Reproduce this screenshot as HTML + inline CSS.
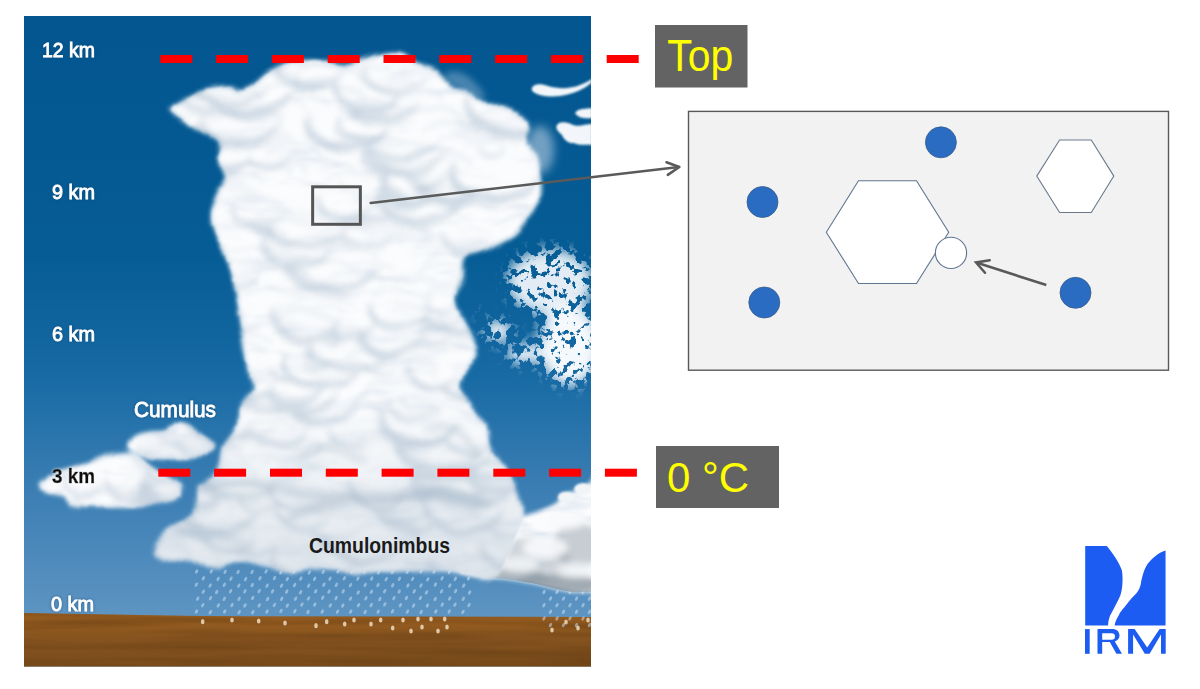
<!DOCTYPE html>
<html><head><meta charset="utf-8">
<style>
html,body{margin:0;padding:0;background:#fff;width:1200px;height:689px;overflow:hidden}
svg{position:absolute;left:0;top:0}
text{font-family:"Liberation Sans",sans-serif}
</style></head><body>
<svg width="1200" height="689" viewBox="0 0 1200 689">
<defs>
  <linearGradient id="sky" gradientUnits="userSpaceOnUse" x1="0" y1="16" x2="0" y2="615">
    <stop offset="0" stop-color="#03568f"/>
    <stop offset="0.4" stop-color="#065c95"/>
    <stop offset="0.6" stop-color="#176aa4"/>
    <stop offset="0.8" stop-color="#3d7fb4"/>
    <stop offset="1" stop-color="#5d94c2"/>
  </linearGradient>
  <linearGradient id="ground" x1="0" y1="0" x2="0" y2="1">
    <stop offset="0" stop-color="#9a5f20"/>
    <stop offset="0.5" stop-color="#85531f"/>
    <stop offset="1" stop-color="#7a4c1b"/>
  </linearGradient>
  <linearGradient id="rlcg" x1="0" y1="0" x2="0" y2="1">
    <stop offset="0" stop-color="#f4f6f8"/>
    <stop offset="0.6" stop-color="#c9d1d8"/>
    <stop offset="1" stop-color="#8e9aa4"/>
  </linearGradient>
  <clipPath id="pic"><rect x="24" y="16" width="567" height="650.7"/></clipPath>
  <filter id="cloudfx" x="-5%" y="-5%" width="110%" height="110%">
    <feGaussianBlur in="SourceGraphic" stdDeviation="2" result="b"/>
    <feTurbulence type="fractalNoise" baseFrequency="0.018 0.07" numOctaves="3" seed="5" result="t"/>
    <feColorMatrix in="t" type="matrix" values="0 0 0 0 0.72  0 0 0 0 0.79  0 0 0 0 0.87  0 0 0 -2.6 1.22" result="tc"/>
    <feComposite in="tc" in2="b" operator="in" result="tx"/>
    <feMerge><feMergeNode in="b"/><feMergeNode in="tx"/></feMerge>
  </filter>
  <filter id="bumpy" x="0" y="0" width="1200" height="689" filterUnits="userSpaceOnUse" color-interpolation-filters="sRGB">
    <feTurbulence type="fractalNoise" baseFrequency="0.035" numOctaves="1" seed="2" result="dn"/>
    <feDisplacementMap in="SourceGraphic" in2="dn" scale="10" xChannelSelector="R" yChannelSelector="G" result="dd"/>
    <feGaussianBlur in="dd" stdDeviation="0.9"/>
  </filter>
  <filter id="gtex" x="0" y="600" width="1200" height="80" filterUnits="userSpaceOnUse" color-interpolation-filters="sRGB">
    <feTurbulence type="fractalNoise" baseFrequency="0.006 0.12" numOctaves="2" seed="8" result="gn"/>
    <feColorMatrix in="gn" type="matrix" values="0 0 0 0 0.35  0 0 0 0 0.21  0 0 0 0 0.06  -1.6 0 0 0 1.0" result="gc"/>
    <feComposite in="gc" in2="SourceAlpha" operator="in"/>
  </filter>
  <filter id="blur05" x="-50%" y="-50%" width="200%" height="200%"><feGaussianBlur stdDeviation="0.5"/></filter>
  <filter id="blur1" x="-20%" y="-20%" width="140%" height="140%"><feGaussianBlur stdDeviation="1"/></filter>
  <filter id="blur2" x="-20%" y="-20%" width="140%" height="140%"><feGaussianBlur stdDeviation="3"/></filter>
  <filter id="blur4" x="-30%" y="-30%" width="160%" height="160%"><feGaussianBlur stdDeviation="5"/></filter>
  <filter id="glow" x="-20%" y="-50%" width="140%" height="200%"><feGaussianBlur in="SourceAlpha" stdDeviation="1.5" result="g"/><feFlood flood-color="#0a3d6a" flood-opacity="0.6"/><feComposite in2="g" operator="in"/><feMerge><feMergeNode/><feMergeNode in="SourceGraphic"/></feMerge></filter>
  <filter id="wglow" x="-20%" y="-50%" width="140%" height="200%"><feGaussianBlur in="SourceAlpha" stdDeviation="1.5" result="g"/><feFlood flood-color="#ffffff" flood-opacity="0.7"/><feComposite in2="g" operator="in"/><feMerge><feMergeNode/><feMergeNode in="SourceGraphic"/></feMerge></filter>
<filter id="frag" x="0" y="0" width="1200" height="689" filterUnits="userSpaceOnUse" color-interpolation-filters="sRGB">
  <feGaussianBlur in="SourceAlpha" stdDeviation="7" result="blob"/>
  <feTurbulence type="fractalNoise" baseFrequency="0.13" numOctaves="3" seed="9" result="n"/>
  <feColorMatrix in="n" type="matrix" values="0 0 0 0 0  0 0 0 0 0  0 0 0 0 0  1 0 0 0 0" result="na"/>
  <feComposite in="na" in2="blob" operator="arithmetic" k1="0" k2="2.5" k3="0.62" k4="-1.45" result="c"/>
  <feComponentTransfer in="c" result="th"><feFuncA type="linear" slope="7" intercept="-0.6"/></feComponentTransfer>
  <feComposite in="th" in2="blob" operator="in" result="th2"/>
  <feGaussianBlur in="th2" stdDeviation="0.4" result="thb"/>
  <feFlood flood-color="#f6f9fc"/>
  <feComposite in2="thb" operator="in"/>
</filter>
<clipPath id="rlcclip"><path d="M500.0 522.0 C507.1 519.0 513.7 518.6 520.5 516.7 C527.3 514.8 534.7 513.0 540.8 510.6 C546.9 508.2 553.6 505.2 557.0 502.5 C560.4 499.8 558.7 496.1 561.0 494.4 C563.3 492.6 567.3 493.0 571.0 492.0 C574.7 491.0 579.9 490.3 583.4 488.3 C586.9 486.3 590.1 481.4 592.0 480.0 C593.9 478.6 594.5 461.3 595.0 480.0 C595.5 498.7 595.7 573.4 595.0 592.0 C594.3 610.6 595.0 591.9 591.0 591.9 C587.0 591.9 577.7 592.6 571.0 591.9 C564.3 591.2 557.0 589.2 551.0 587.8 C545.0 586.4 541.5 585.1 534.7 583.7 C527.9 582.4 517.8 580.7 510.3 579.7 C502.9 578.7 498.1 578.7 490.0 577.6 C481.9 576.5 467.3 575.6 462.0 573.0 C456.7 570.4 455.3 568.3 458.0 562.0 C460.7 555.7 471.0 541.7 478.0 535.0 C485.0 528.3 492.9 525.0 500.0 522.0 Z"/></clipPath>
<clipPath id="mainclip"><path d="M170.5 109.6 C170.5 106.8 175.2 104.2 181.0 101.0 C186.8 97.8 196.9 92.8 205.0 90.5 C213.1 88.2 223.9 87.0 229.7 87.0 C235.5 87.0 235.6 91.4 240.0 90.7 C244.4 90.0 250.7 86.3 256.0 82.7 C261.3 79.1 265.8 72.9 272.0 69.3 C278.2 65.7 285.0 62.6 293.0 61.3 C301.0 60.0 311.1 60.8 320.0 61.3 C328.9 61.8 339.2 64.4 346.7 64.0 C354.2 63.6 358.8 60.5 365.0 58.7 C371.2 56.9 377.7 54.2 384.0 53.3 C390.3 52.4 397.4 51.7 402.7 53.3 C408.0 54.9 410.7 60.0 416.0 62.7 C421.3 65.4 428.5 65.1 434.7 69.3 C440.9 73.5 446.8 84.0 453.0 88.0 C459.2 92.0 465.3 90.6 472.0 93.3 C478.7 96.0 485.9 100.9 493.0 104.0 C500.1 107.1 508.9 109.3 514.7 112.0 C520.5 114.7 525.3 117.5 528.0 120.0 C530.7 122.5 531.0 124.0 531.0 127.0 C531.0 130.0 527.0 132.5 528.0 138.0 C529.0 143.5 535.0 153.0 537.0 160.0 C539.0 167.0 539.5 174.0 540.0 180.0 C540.5 186.0 541.0 191.2 540.0 196.0 C539.0 200.8 537.3 203.3 534.0 209.0 C530.7 214.7 524.0 225.2 520.0 230.0 C516.0 234.8 514.7 235.2 510.0 238.0 C505.3 240.8 497.3 244.7 492.0 247.0 C486.7 249.3 482.7 250.2 478.0 252.0 C473.3 253.8 466.7 253.5 464.0 258.0 C461.3 262.5 463.5 272.2 462.0 279.0 C460.5 285.8 454.7 291.7 455.0 299.0 C455.3 306.3 460.8 315.7 464.0 323.0 C467.2 330.3 473.3 335.8 474.0 343.0 C474.7 350.2 470.2 358.7 468.0 366.0 C465.8 373.3 460.2 380.2 461.0 387.0 C461.8 393.8 468.4 400.8 472.5 407.0 C476.6 413.2 482.5 416.8 485.6 424.0 C488.7 431.2 487.3 442.0 491.0 450.0 C494.7 458.0 503.2 463.7 508.0 472.0 C512.8 480.3 517.7 492.3 520.0 500.0 C522.3 507.7 522.8 511.8 522.0 518.0 C521.2 524.2 519.5 527.3 515.0 537.0 C510.5 546.7 506.7 570.3 495.0 576.0 C483.3 581.7 467.5 571.7 445.0 571.0 C422.5 570.3 382.5 572.5 360.0 572.0 C337.5 571.5 322.2 568.0 310.0 568.0 C297.8 568.0 294.9 572.7 287.0 572.0 C279.1 571.3 271.4 565.6 262.6 564.0 C253.8 562.4 241.3 562.2 234.0 562.5 C226.7 562.8 225.2 566.0 219.0 566.0 C212.8 566.0 205.0 563.7 196.6 562.5 C188.2 561.3 175.2 560.3 168.3 558.7 C161.4 557.1 157.4 555.2 155.0 553.0 C152.6 550.8 152.7 548.3 154.0 545.5 C155.3 542.7 159.0 539.1 162.6 536.0 C166.2 532.9 171.4 529.4 175.8 526.6 C180.2 523.8 185.5 522.1 189.0 519.0 C192.5 515.9 195.0 513.0 196.6 507.7 C198.2 502.4 197.3 491.0 198.5 487.0 C199.7 483.0 200.8 486.8 204.0 483.7 C207.2 480.6 214.6 474.0 217.7 468.4 C220.8 462.8 220.0 455.6 222.3 450.0 C224.6 444.4 228.6 440.2 231.5 435.0 C234.4 429.8 237.7 424.1 239.5 419.0 C241.3 413.9 240.2 409.3 242.4 404.5 C244.6 399.7 251.3 394.9 252.6 390.0 C253.9 385.1 251.3 381.7 250.0 375.0 C248.7 368.3 246.1 357.0 244.8 349.7 C243.5 342.4 243.0 336.7 242.2 331.4 C241.4 326.1 241.2 325.1 240.0 318.0 C238.8 310.9 236.7 297.3 235.0 289.0 C233.3 280.7 232.2 275.3 229.7 268.0 C227.2 260.7 222.9 252.0 220.0 245.0 C217.1 238.0 213.3 232.0 212.0 226.0 C210.7 220.0 210.8 215.0 212.0 209.0 C213.2 203.0 216.9 195.2 219.0 190.0 C221.1 184.8 224.8 182.6 224.5 177.6 C224.2 172.6 218.1 165.5 217.5 160.0 C216.9 154.5 221.3 148.6 221.0 144.5 C220.7 140.4 220.1 138.3 215.7 135.7 C211.3 133.1 200.6 131.8 194.8 128.8 C189.0 125.9 185.1 121.2 181.0 118.0 C176.9 114.8 170.5 112.4 170.5 109.6 Z"/><path d="M126.3 447.6 C126.3 444.7 131.2 438.9 135.0 436.3 C138.8 433.7 144.3 432.8 149.0 431.9 C153.7 431.0 158.9 432.2 163.0 431.0 C167.1 429.8 169.4 425.8 173.5 424.9 C177.6 424.0 183.4 424.4 187.5 425.8 C191.6 427.1 194.8 430.7 198.0 432.8 C201.2 434.8 204.1 436.0 206.8 438.0 C209.4 440.0 212.9 442.7 213.8 445.0 C214.6 447.3 214.9 450.1 212.0 452.0 C209.1 453.9 202.7 455.2 196.2 456.4 C189.8 457.6 180.8 458.7 173.5 459.0 C166.2 459.3 158.9 458.9 152.5 458.0 C146.1 457.1 139.4 455.5 135.0 453.8 C130.6 452.0 126.3 450.5 126.3 447.6 Z"/><path d="M39.6 487.0 C39.0 484.7 41.2 482.6 44.0 480.0 C46.8 477.4 51.3 473.6 56.2 471.2 C61.2 468.9 68.5 467.2 73.8 466.0 C79.0 464.8 83.4 465.4 87.8 464.2 C92.1 463.1 95.6 460.6 100.0 459.0 C104.4 457.4 108.8 455.5 114.0 454.6 C119.2 453.7 126.5 452.7 131.5 453.8 C136.5 454.8 140.2 458.4 143.8 460.8 C147.2 463.1 148.7 465.1 152.5 467.8 C156.3 470.4 162.1 473.9 166.5 476.5 C170.9 479.1 176.1 481.2 178.8 483.5 C181.4 485.8 182.2 488.2 182.2 490.5 C182.2 492.8 182.2 495.5 178.8 497.5 C175.2 499.5 168.5 501.3 161.2 502.8 C154.0 504.2 145.2 505.7 135.0 506.2 C124.8 506.8 110.2 506.4 100.0 506.2 C89.8 506.1 79.9 506.9 73.8 505.4 C67.6 503.9 67.6 499.4 63.2 497.5 C58.9 495.6 51.4 495.8 47.5 494.0 C43.6 492.2 40.2 489.3 39.6 487.0 Z"/></clipPath>
<linearGradient id="lowshade" gradientUnits="userSpaceOnUse" x1="0" y1="400" x2="0" y2="575">
  <stop offset="0" stop-color="#b4c4d3" stop-opacity="0"/>
  <stop offset="1" stop-color="#a9bacb" stop-opacity="0.35"/>
</linearGradient>
<filter id="blur4s" x="-5%" y="-5%" width="110%" height="110%"><feGaussianBlur stdDeviation="4"/></filter>
<filter id="pb4" x="-5%" y="-5%" width="110%" height="110%"><feGaussianBlur stdDeviation="3"/></filter>
<filter id="pb" x="-5%" y="-5%" width="110%" height="110%"><feGaussianBlur stdDeviation="2.5"/></filter>
</defs>
<g clip-path="url(#pic)">
  <rect x="24" y="16" width="567" height="650.7" fill="url(#sky)"/>
  <path d="M24 613 L200 616 L591 617 L591 666.7 L24 666.7 Z" fill="url(#ground)"/>
  <path d="M24 613 L200 616 L591 617 L591 666.7 L24 666.7 Z" fill="#5a3510" filter="url(#gtex)" opacity="0.5"/>
  <g fill="#d2e6f7" opacity="0.5"><ellipse cx="196.6" cy="571.5" rx="1.4" ry="2.4" transform="rotate(28 196.6 571.5)"/><ellipse cx="211.3" cy="571.4" rx="1.4" ry="2.4" transform="rotate(28 211.3 571.4)"/><ellipse cx="225.1" cy="571.8" rx="1.4" ry="2.4" transform="rotate(28 225.1 571.8)"/><ellipse cx="238.1" cy="572.0" rx="1.4" ry="2.4" transform="rotate(28 238.1 572.0)"/><ellipse cx="252.1" cy="571.9" rx="1.4" ry="2.4" transform="rotate(28 252.1 571.9)"/><ellipse cx="266.1" cy="571.4" rx="1.4" ry="2.4" transform="rotate(28 266.1 571.4)"/><ellipse cx="280.8" cy="572.5" rx="1.4" ry="2.4" transform="rotate(28 280.8 572.5)"/><ellipse cx="294.2" cy="571.6" rx="1.4" ry="2.4" transform="rotate(28 294.2 571.6)"/><ellipse cx="309.3" cy="572.6" rx="1.4" ry="2.4" transform="rotate(28 309.3 572.6)"/><ellipse cx="323.2" cy="571.9" rx="1.4" ry="2.4" transform="rotate(28 323.2 571.9)"/><ellipse cx="338.0" cy="571.4" rx="1.4" ry="2.4" transform="rotate(28 338.0 571.4)"/><ellipse cx="351.7" cy="571.7" rx="1.4" ry="2.4" transform="rotate(28 351.7 571.7)"/><ellipse cx="364.3" cy="571.5" rx="1.4" ry="2.4" transform="rotate(28 364.3 571.5)"/><ellipse cx="378.6" cy="572.4" rx="1.4" ry="2.4" transform="rotate(28 378.6 572.4)"/><ellipse cx="392.4" cy="572.1" rx="1.4" ry="2.4" transform="rotate(28 392.4 572.1)"/><ellipse cx="407.3" cy="571.8" rx="1.4" ry="2.4" transform="rotate(28 407.3 571.8)"/><ellipse cx="421.1" cy="571.4" rx="1.4" ry="2.4" transform="rotate(28 421.1 571.4)"/><ellipse cx="434.1" cy="571.6" rx="1.4" ry="2.4" transform="rotate(28 434.1 571.6)"/><ellipse cx="449.4" cy="571.9" rx="1.4" ry="2.4" transform="rotate(28 449.4 571.9)"/><ellipse cx="462.6" cy="572.1" rx="1.4" ry="2.4" transform="rotate(28 462.6 572.1)"/><ellipse cx="203.4" cy="578.3" rx="1.4" ry="2.4" transform="rotate(28 203.4 578.3)"/><ellipse cx="218.1" cy="578.9" rx="1.4" ry="2.4" transform="rotate(28 218.1 578.9)"/><ellipse cx="231.0" cy="578.7" rx="1.4" ry="2.4" transform="rotate(28 231.0 578.7)"/><ellipse cx="245.6" cy="579.1" rx="1.4" ry="2.4" transform="rotate(28 245.6 579.1)"/><ellipse cx="260.0" cy="578.3" rx="1.4" ry="2.4" transform="rotate(28 260.0 578.3)"/><ellipse cx="274.5" cy="578.1" rx="1.4" ry="2.4" transform="rotate(28 274.5 578.1)"/><ellipse cx="287.3" cy="579.0" rx="1.4" ry="2.4" transform="rotate(28 287.3 579.0)"/><ellipse cx="300.8" cy="578.6" rx="1.4" ry="2.4" transform="rotate(28 300.8 578.6)"/><ellipse cx="314.6" cy="578.8" rx="1.4" ry="2.4" transform="rotate(28 314.6 578.8)"/><ellipse cx="330.0" cy="578.7" rx="1.4" ry="2.4" transform="rotate(28 330.0 578.7)"/><ellipse cx="344.3" cy="578.3" rx="1.4" ry="2.4" transform="rotate(28 344.3 578.3)"/><ellipse cx="357.9" cy="578.7" rx="1.4" ry="2.4" transform="rotate(28 357.9 578.7)"/><ellipse cx="371.7" cy="578.5" rx="1.4" ry="2.4" transform="rotate(28 371.7 578.5)"/><ellipse cx="386.2" cy="579.2" rx="1.4" ry="2.4" transform="rotate(28 386.2 579.2)"/><ellipse cx="399.4" cy="578.8" rx="1.4" ry="2.4" transform="rotate(28 399.4 578.8)"/><ellipse cx="412.6" cy="578.9" rx="1.4" ry="2.4" transform="rotate(28 412.6 578.9)"/><ellipse cx="427.8" cy="579.3" rx="1.4" ry="2.4" transform="rotate(28 427.8 579.3)"/><ellipse cx="442.1" cy="578.3" rx="1.4" ry="2.4" transform="rotate(28 442.1 578.3)"/><ellipse cx="455.3" cy="578.8" rx="1.4" ry="2.4" transform="rotate(28 455.3 578.8)"/><ellipse cx="468.5" cy="578.5" rx="1.4" ry="2.4" transform="rotate(28 468.5 578.5)"/><ellipse cx="196.3" cy="584.7" rx="1.4" ry="2.4" transform="rotate(28 196.3 584.7)"/><ellipse cx="210.1" cy="585.6" rx="1.4" ry="2.4" transform="rotate(28 210.1 585.6)"/><ellipse cx="224.3" cy="584.8" rx="1.4" ry="2.4" transform="rotate(28 224.3 584.8)"/><ellipse cx="238.8" cy="585.7" rx="1.4" ry="2.4" transform="rotate(28 238.8 585.7)"/><ellipse cx="252.2" cy="585.1" rx="1.4" ry="2.4" transform="rotate(28 252.2 585.1)"/><ellipse cx="267.1" cy="585.7" rx="1.4" ry="2.4" transform="rotate(28 267.1 585.7)"/><ellipse cx="281.6" cy="585.7" rx="1.4" ry="2.4" transform="rotate(28 281.6 585.7)"/><ellipse cx="294.6" cy="585.1" rx="1.4" ry="2.4" transform="rotate(28 294.6 585.1)"/><ellipse cx="308.7" cy="585.7" rx="1.4" ry="2.4" transform="rotate(28 308.7 585.7)"/><ellipse cx="323.9" cy="584.7" rx="1.4" ry="2.4" transform="rotate(28 323.9 584.7)"/><ellipse cx="336.4" cy="584.8" rx="1.4" ry="2.4" transform="rotate(28 336.4 584.8)"/><ellipse cx="350.5" cy="585.2" rx="1.4" ry="2.4" transform="rotate(28 350.5 585.2)"/><ellipse cx="365.2" cy="584.9" rx="1.4" ry="2.4" transform="rotate(28 365.2 584.9)"/><ellipse cx="378.0" cy="585.1" rx="1.4" ry="2.4" transform="rotate(28 378.0 585.1)"/><ellipse cx="392.7" cy="585.3" rx="1.4" ry="2.4" transform="rotate(28 392.7 585.3)"/><ellipse cx="407.9" cy="585.5" rx="1.4" ry="2.4" transform="rotate(28 407.9 585.5)"/><ellipse cx="421.0" cy="585.4" rx="1.4" ry="2.4" transform="rotate(28 421.0 585.4)"/><ellipse cx="435.4" cy="584.6" rx="1.4" ry="2.4" transform="rotate(28 435.4 584.6)"/><ellipse cx="449.8" cy="585.6" rx="1.4" ry="2.4" transform="rotate(28 449.8 585.6)"/><ellipse cx="463.7" cy="585.6" rx="1.4" ry="2.4" transform="rotate(28 463.7 585.6)"/><ellipse cx="203.3" cy="591.7" rx="1.4" ry="2.4" transform="rotate(28 203.3 591.7)"/><ellipse cx="216.7" cy="592.0" rx="1.4" ry="2.4" transform="rotate(28 216.7 592.0)"/><ellipse cx="230.6" cy="591.2" rx="1.4" ry="2.4" transform="rotate(28 230.6 591.2)"/><ellipse cx="244.9" cy="591.3" rx="1.4" ry="2.4" transform="rotate(28 244.9 591.3)"/><ellipse cx="259.2" cy="591.2" rx="1.4" ry="2.4" transform="rotate(28 259.2 591.2)"/><ellipse cx="272.5" cy="591.3" rx="1.4" ry="2.4" transform="rotate(28 272.5 591.3)"/><ellipse cx="286.7" cy="591.6" rx="1.4" ry="2.4" transform="rotate(28 286.7 591.6)"/><ellipse cx="300.6" cy="592.3" rx="1.4" ry="2.4" transform="rotate(28 300.6 592.3)"/><ellipse cx="315.7" cy="591.3" rx="1.4" ry="2.4" transform="rotate(28 315.7 591.3)"/><ellipse cx="329.0" cy="591.6" rx="1.4" ry="2.4" transform="rotate(28 329.0 591.6)"/><ellipse cx="343.2" cy="591.3" rx="1.4" ry="2.4" transform="rotate(28 343.2 591.3)"/><ellipse cx="358.2" cy="592.5" rx="1.4" ry="2.4" transform="rotate(28 358.2 592.5)"/><ellipse cx="371.4" cy="591.8" rx="1.4" ry="2.4" transform="rotate(28 371.4 591.8)"/><ellipse cx="384.7" cy="591.2" rx="1.4" ry="2.4" transform="rotate(28 384.7 591.2)"/><ellipse cx="399.2" cy="591.5" rx="1.4" ry="2.4" transform="rotate(28 399.2 591.5)"/><ellipse cx="414.2" cy="591.3" rx="1.4" ry="2.4" transform="rotate(28 414.2 591.3)"/><ellipse cx="426.5" cy="592.4" rx="1.4" ry="2.4" transform="rotate(28 426.5 592.4)"/><ellipse cx="441.6" cy="591.3" rx="1.4" ry="2.4" transform="rotate(28 441.6 591.3)"/><ellipse cx="455.6" cy="591.1" rx="1.4" ry="2.4" transform="rotate(28 455.6 591.1)"/><ellipse cx="469.6" cy="592.5" rx="1.4" ry="2.4" transform="rotate(28 469.6 592.5)"/><ellipse cx="197.7" cy="598.7" rx="1.4" ry="2.4" transform="rotate(28 197.7 598.7)"/><ellipse cx="210.5" cy="598.2" rx="1.4" ry="2.4" transform="rotate(28 210.5 598.2)"/><ellipse cx="224.3" cy="598.8" rx="1.4" ry="2.4" transform="rotate(28 224.3 598.8)"/><ellipse cx="239.1" cy="598.8" rx="1.4" ry="2.4" transform="rotate(28 239.1 598.8)"/><ellipse cx="252.7" cy="598.0" rx="1.4" ry="2.4" transform="rotate(28 252.7 598.0)"/><ellipse cx="267.6" cy="599.1" rx="1.4" ry="2.4" transform="rotate(28 267.6 599.1)"/><ellipse cx="281.7" cy="598.8" rx="1.4" ry="2.4" transform="rotate(28 281.7 598.8)"/><ellipse cx="295.6" cy="598.7" rx="1.4" ry="2.4" transform="rotate(28 295.6 598.7)"/><ellipse cx="308.5" cy="598.4" rx="1.4" ry="2.4" transform="rotate(28 308.5 598.4)"/><ellipse cx="322.7" cy="597.7" rx="1.4" ry="2.4" transform="rotate(28 322.7 597.7)"/><ellipse cx="336.1" cy="598.1" rx="1.4" ry="2.4" transform="rotate(28 336.1 598.1)"/><ellipse cx="350.5" cy="598.7" rx="1.4" ry="2.4" transform="rotate(28 350.5 598.7)"/><ellipse cx="365.9" cy="598.3" rx="1.4" ry="2.4" transform="rotate(28 365.9 598.3)"/><ellipse cx="379.9" cy="599.1" rx="1.4" ry="2.4" transform="rotate(28 379.9 599.1)"/><ellipse cx="393.9" cy="598.2" rx="1.4" ry="2.4" transform="rotate(28 393.9 598.2)"/><ellipse cx="406.4" cy="598.0" rx="1.4" ry="2.4" transform="rotate(28 406.4 598.0)"/><ellipse cx="420.4" cy="598.0" rx="1.4" ry="2.4" transform="rotate(28 420.4 598.0)"/><ellipse cx="435.2" cy="599.0" rx="1.4" ry="2.4" transform="rotate(28 435.2 599.0)"/><ellipse cx="449.7" cy="598.4" rx="1.4" ry="2.4" transform="rotate(28 449.7 598.4)"/><ellipse cx="463.3" cy="598.8" rx="1.4" ry="2.4" transform="rotate(28 463.3 598.8)"/><ellipse cx="202.7" cy="605.2" rx="1.4" ry="2.4" transform="rotate(28 202.7 605.2)"/><ellipse cx="218.3" cy="605.4" rx="1.4" ry="2.4" transform="rotate(28 218.3 605.4)"/><ellipse cx="232.0" cy="605.0" rx="1.4" ry="2.4" transform="rotate(28 232.0 605.0)"/><ellipse cx="244.9" cy="605.4" rx="1.4" ry="2.4" transform="rotate(28 244.9 605.4)"/><ellipse cx="259.2" cy="605.4" rx="1.4" ry="2.4" transform="rotate(28 259.2 605.4)"/><ellipse cx="274.4" cy="604.9" rx="1.4" ry="2.4" transform="rotate(28 274.4 604.9)"/><ellipse cx="287.3" cy="605.6" rx="1.4" ry="2.4" transform="rotate(28 287.3 605.6)"/><ellipse cx="301.9" cy="604.5" rx="1.4" ry="2.4" transform="rotate(28 301.9 604.5)"/><ellipse cx="314.8" cy="604.5" rx="1.4" ry="2.4" transform="rotate(28 314.8 604.5)"/><ellipse cx="330.3" cy="605.4" rx="1.4" ry="2.4" transform="rotate(28 330.3 605.4)"/><ellipse cx="342.8" cy="605.5" rx="1.4" ry="2.4" transform="rotate(28 342.8 605.5)"/><ellipse cx="358.5" cy="605.2" rx="1.4" ry="2.4" transform="rotate(28 358.5 605.2)"/><ellipse cx="371.2" cy="605.1" rx="1.4" ry="2.4" transform="rotate(28 371.2 605.1)"/><ellipse cx="384.8" cy="604.3" rx="1.4" ry="2.4" transform="rotate(28 384.8 604.3)"/><ellipse cx="400.4" cy="605.2" rx="1.4" ry="2.4" transform="rotate(28 400.4 605.2)"/><ellipse cx="413.6" cy="605.6" rx="1.4" ry="2.4" transform="rotate(28 413.6 605.6)"/><ellipse cx="427.4" cy="605.5" rx="1.4" ry="2.4" transform="rotate(28 427.4 605.5)"/><ellipse cx="442.2" cy="604.6" rx="1.4" ry="2.4" transform="rotate(28 442.2 604.6)"/><ellipse cx="455.0" cy="604.7" rx="1.4" ry="2.4" transform="rotate(28 455.0 604.7)"/><ellipse cx="469.0" cy="605.1" rx="1.4" ry="2.4" transform="rotate(28 469.0 605.1)"/><ellipse cx="196.5" cy="611.5" rx="1.4" ry="2.4" transform="rotate(28 196.5 611.5)"/><ellipse cx="210.3" cy="612.2" rx="1.4" ry="2.4" transform="rotate(28 210.3 612.2)"/><ellipse cx="224.7" cy="611.5" rx="1.4" ry="2.4" transform="rotate(28 224.7 611.5)"/><ellipse cx="239.2" cy="612.2" rx="1.4" ry="2.4" transform="rotate(28 239.2 612.2)"/><ellipse cx="252.8" cy="612.2" rx="1.4" ry="2.4" transform="rotate(28 252.8 612.2)"/><ellipse cx="267.0" cy="611.6" rx="1.4" ry="2.4" transform="rotate(28 267.0 611.6)"/><ellipse cx="281.0" cy="610.9" rx="1.4" ry="2.4" transform="rotate(28 281.0 610.9)"/><ellipse cx="294.9" cy="611.2" rx="1.4" ry="2.4" transform="rotate(28 294.9 611.2)"/><ellipse cx="308.0" cy="612.0" rx="1.4" ry="2.4" transform="rotate(28 308.0 612.0)"/><ellipse cx="322.3" cy="611.6" rx="1.4" ry="2.4" transform="rotate(28 322.3 611.6)"/><ellipse cx="337.5" cy="611.7" rx="1.4" ry="2.4" transform="rotate(28 337.5 611.7)"/><ellipse cx="350.7" cy="611.6" rx="1.4" ry="2.4" transform="rotate(28 350.7 611.6)"/><ellipse cx="365.1" cy="612.0" rx="1.4" ry="2.4" transform="rotate(28 365.1 612.0)"/><ellipse cx="378.2" cy="611.7" rx="1.4" ry="2.4" transform="rotate(28 378.2 611.7)"/><ellipse cx="392.5" cy="611.3" rx="1.4" ry="2.4" transform="rotate(28 392.5 611.3)"/><ellipse cx="407.5" cy="611.6" rx="1.4" ry="2.4" transform="rotate(28 407.5 611.6)"/><ellipse cx="421.1" cy="612.0" rx="1.4" ry="2.4" transform="rotate(28 421.1 612.0)"/><ellipse cx="435.8" cy="611.5" rx="1.4" ry="2.4" transform="rotate(28 435.8 611.5)"/><ellipse cx="449.2" cy="611.6" rx="1.4" ry="2.4" transform="rotate(28 449.2 611.6)"/><ellipse cx="463.0" cy="611.9" rx="1.4" ry="2.4" transform="rotate(28 463.0 611.9)"/><ellipse cx="544.0" cy="592.0" rx="1.4" ry="2.4" transform="rotate(28 544.0 592.0)"/><ellipse cx="557.0" cy="592.0" rx="1.4" ry="2.4" transform="rotate(28 557.0 592.0)"/><ellipse cx="570.0" cy="592.0" rx="1.4" ry="2.4" transform="rotate(28 570.0 592.0)"/><ellipse cx="583.0" cy="592.0" rx="1.4" ry="2.4" transform="rotate(28 583.0 592.0)"/><ellipse cx="550.5" cy="598.6" rx="1.4" ry="2.4" transform="rotate(28 550.5 598.6)"/><ellipse cx="563.5" cy="598.6" rx="1.4" ry="2.4" transform="rotate(28 563.5 598.6)"/><ellipse cx="576.5" cy="598.6" rx="1.4" ry="2.4" transform="rotate(28 576.5 598.6)"/><ellipse cx="589.5" cy="598.6" rx="1.4" ry="2.4" transform="rotate(28 589.5 598.6)"/><ellipse cx="544.0" cy="605.2" rx="1.4" ry="2.4" transform="rotate(28 544.0 605.2)"/><ellipse cx="557.0" cy="605.2" rx="1.4" ry="2.4" transform="rotate(28 557.0 605.2)"/><ellipse cx="570.0" cy="605.2" rx="1.4" ry="2.4" transform="rotate(28 570.0 605.2)"/><ellipse cx="583.0" cy="605.2" rx="1.4" ry="2.4" transform="rotate(28 583.0 605.2)"/><ellipse cx="550.5" cy="611.8" rx="1.4" ry="2.4" transform="rotate(28 550.5 611.8)"/><ellipse cx="563.5" cy="611.8" rx="1.4" ry="2.4" transform="rotate(28 563.5 611.8)"/><ellipse cx="576.5" cy="611.8" rx="1.4" ry="2.4" transform="rotate(28 576.5 611.8)"/><ellipse cx="589.5" cy="611.8" rx="1.4" ry="2.4" transform="rotate(28 589.5 611.8)"/><ellipse cx="544.0" cy="618.4" rx="1.4" ry="2.4" transform="rotate(28 544.0 618.4)"/><ellipse cx="557.0" cy="618.4" rx="1.4" ry="2.4" transform="rotate(28 557.0 618.4)"/><ellipse cx="570.0" cy="618.4" rx="1.4" ry="2.4" transform="rotate(28 570.0 618.4)"/><ellipse cx="583.0" cy="618.4" rx="1.4" ry="2.4" transform="rotate(28 583.0 618.4)"/><ellipse cx="550.5" cy="625.0" rx="1.4" ry="2.4" transform="rotate(28 550.5 625.0)"/><ellipse cx="563.5" cy="625.0" rx="1.4" ry="2.4" transform="rotate(28 563.5 625.0)"/><ellipse cx="576.5" cy="625.0" rx="1.4" ry="2.4" transform="rotate(28 576.5 625.0)"/><ellipse cx="589.5" cy="625.0" rx="1.4" ry="2.4" transform="rotate(28 589.5 625.0)"/></g>
  <g fill="#f0dcc0" opacity="0.85" filter="url(#blur05)"><ellipse cx="202.7" cy="621.7" rx="1.8" ry="2.6"/><ellipse cx="232.0" cy="620.0" rx="1.8" ry="2.6"/><ellipse cx="258.7" cy="621.0" rx="1.8" ry="2.6"/><ellipse cx="285.0" cy="623.0" rx="1.8" ry="2.6"/><ellipse cx="316.0" cy="625.7" rx="1.8" ry="2.6"/><ellipse cx="326.7" cy="621.7" rx="1.8" ry="2.6"/><ellipse cx="344.7" cy="624.0" rx="1.8" ry="2.6"/><ellipse cx="354.0" cy="620.0" rx="1.8" ry="2.6"/><ellipse cx="371.0" cy="624.0" rx="1.8" ry="2.6"/><ellipse cx="380.7" cy="620.0" rx="1.8" ry="2.6"/><ellipse cx="392.7" cy="628.0" rx="1.8" ry="2.6"/><ellipse cx="403.0" cy="620.0" rx="1.8" ry="2.6"/><ellipse cx="411.0" cy="631.0" rx="1.8" ry="2.6"/><ellipse cx="418.0" cy="619.0" rx="1.8" ry="2.6"/><ellipse cx="422.0" cy="627.0" rx="1.8" ry="2.6"/><ellipse cx="431.0" cy="619.0" rx="1.8" ry="2.6"/><ellipse cx="438.0" cy="631.0" rx="1.8" ry="2.6"/><ellipse cx="444.7" cy="619.0" rx="1.8" ry="2.6"/><ellipse cx="447.0" cy="627.0" rx="1.8" ry="2.6"/><ellipse cx="552.0" cy="630.0" rx="1.8" ry="2.6"/><ellipse cx="566.0" cy="622.0" rx="1.8" ry="2.6"/><ellipse cx="578.0" cy="628.0" rx="1.8" ry="2.6"/><ellipse cx="588.0" cy="620.0" rx="1.8" ry="2.6"/></g>
  <!-- streaks top right -->
  <g fill="#f2f6fa" filter="url(#blur1)">
    <path d="M532 88 C533 84 540 83 548 86 C558 89 570 89 580 85 C585 83 589 81 592 79 L592 82 C586 88 575 94 560 96 C548 97 540 96 535 93 C532 91 531 90 532 88 Z"/>
    <path d="M575 113 C578 108 586 109 592 108 L592 118 C586 119 578 118 575 113 Z"/>
    <path d="M557 125 C560 121 567 122 573 125 C579 127 586 124 592 124 L592 145 C586 144 580 146 574 143 C569 144 564 140 562 135 C558 132 555 128 557 125 Z"/>
  </g>
  <ellipse cx="540" cy="150" rx="14" ry="24" fill="#b9cfe2" opacity="0.6" filter="url(#blur4)"/>
  <path d="M445 74 C455 68 468 74 476 84 C484 92 488 98 482 99 C472 97 458 90 447 82 Z" fill="#c5d8e8" opacity="0.35" filter="url(#blur2)"/>
  <g filter="url(#frag)">
 <ellipse cx="550" cy="282" rx="44" ry="34" fill-opacity="0.92"/>
 <ellipse cx="570" cy="345" rx="32" ry="42"/>
 <ellipse cx="524" cy="354" rx="18" ry="10"/>
 <ellipse cx="498" cy="331" rx="15" ry="11"/>
 <circle cx="480" cy="313" r="3"/>
</g>
  <g filter="url(#cloudfx)" fill="#fbfcfd">
    <path d="M500.0 522.0 C507.1 519.0 513.7 518.6 520.5 516.7 C527.3 514.8 534.7 513.0 540.8 510.6 C546.9 508.2 553.6 505.2 557.0 502.5 C560.4 499.8 558.7 496.1 561.0 494.4 C563.3 492.6 567.3 493.0 571.0 492.0 C574.7 491.0 579.9 490.3 583.4 488.3 C586.9 486.3 590.1 481.4 592.0 480.0 C593.9 478.6 594.5 461.3 595.0 480.0 C595.5 498.7 595.7 573.4 595.0 592.0 C594.3 610.6 595.0 591.9 591.0 591.9 C587.0 591.9 577.7 592.6 571.0 591.9 C564.3 591.2 557.0 589.2 551.0 587.8 C545.0 586.4 541.5 585.1 534.7 583.7 C527.9 582.4 517.8 580.7 510.3 579.7 C502.9 578.7 498.1 578.7 490.0 577.6 C481.9 576.5 467.3 575.6 462.0 573.0 C456.7 570.4 455.3 568.3 458.0 562.0 C460.7 555.7 471.0 541.7 478.0 535.0 C485.0 528.3 492.9 525.0 500.0 522.0 Z" />
  </g>
  <g clip-path="url(#rlcclip)" filter="url(#blur2)">
    <ellipse cx="530" cy="560" rx="40" ry="22" fill="#9aa7b1" opacity="0.45"/>
    <ellipse cx="578" cy="545" rx="25" ry="22" fill="#8794a0" opacity="0.45"/>
    <ellipse cx="560" cy="585" rx="45" ry="10" fill="#7b8893" opacity="0.7"/>
    <ellipse cx="515" cy="576" rx="30" ry="7" fill="#85929d" opacity="0.55"/>
    <ellipse cx="545" cy="548" rx="22" ry="10" fill="#f8fafc" opacity="0.9"/>
    <ellipse cx="520" cy="565" rx="18" ry="8" fill="#f4f7f9" opacity="0.8"/>
    <ellipse cx="565" cy="520" rx="20" ry="9" fill="#f8fafc" opacity="0.9"/>
    <ellipse cx="575" cy="570" rx="18" ry="8" fill="#eef2f5" opacity="0.7"/>
  </g>
  <g fill="#f2f5f8" filter="url(#blur1)">
    <ellipse cx="566" cy="497" rx="8" ry="5"/>
    <ellipse cx="583" cy="489" rx="9" ry="6"/>
  </g>
  <g filter="url(#bumpy)">
  <g filter="url(#cloudfx)" fill="#fbfcfd">
    <path d="M170.5 109.6 C170.5 106.8 175.2 104.2 181.0 101.0 C186.8 97.8 196.9 92.8 205.0 90.5 C213.1 88.2 223.9 87.0 229.7 87.0 C235.5 87.0 235.6 91.4 240.0 90.7 C244.4 90.0 250.7 86.3 256.0 82.7 C261.3 79.1 265.8 72.9 272.0 69.3 C278.2 65.7 285.0 62.6 293.0 61.3 C301.0 60.0 311.1 60.8 320.0 61.3 C328.9 61.8 339.2 64.4 346.7 64.0 C354.2 63.6 358.8 60.5 365.0 58.7 C371.2 56.9 377.7 54.2 384.0 53.3 C390.3 52.4 397.4 51.7 402.7 53.3 C408.0 54.9 410.7 60.0 416.0 62.7 C421.3 65.4 428.5 65.1 434.7 69.3 C440.9 73.5 446.8 84.0 453.0 88.0 C459.2 92.0 465.3 90.6 472.0 93.3 C478.7 96.0 485.9 100.9 493.0 104.0 C500.1 107.1 508.9 109.3 514.7 112.0 C520.5 114.7 525.3 117.5 528.0 120.0 C530.7 122.5 531.0 124.0 531.0 127.0 C531.0 130.0 527.0 132.5 528.0 138.0 C529.0 143.5 535.0 153.0 537.0 160.0 C539.0 167.0 539.5 174.0 540.0 180.0 C540.5 186.0 541.0 191.2 540.0 196.0 C539.0 200.8 537.3 203.3 534.0 209.0 C530.7 214.7 524.0 225.2 520.0 230.0 C516.0 234.8 514.7 235.2 510.0 238.0 C505.3 240.8 497.3 244.7 492.0 247.0 C486.7 249.3 482.7 250.2 478.0 252.0 C473.3 253.8 466.7 253.5 464.0 258.0 C461.3 262.5 463.5 272.2 462.0 279.0 C460.5 285.8 454.7 291.7 455.0 299.0 C455.3 306.3 460.8 315.7 464.0 323.0 C467.2 330.3 473.3 335.8 474.0 343.0 C474.7 350.2 470.2 358.7 468.0 366.0 C465.8 373.3 460.2 380.2 461.0 387.0 C461.8 393.8 468.4 400.8 472.5 407.0 C476.6 413.2 482.5 416.8 485.6 424.0 C488.7 431.2 487.3 442.0 491.0 450.0 C494.7 458.0 503.2 463.7 508.0 472.0 C512.8 480.3 517.7 492.3 520.0 500.0 C522.3 507.7 522.8 511.8 522.0 518.0 C521.2 524.2 519.5 527.3 515.0 537.0 C510.5 546.7 506.7 570.3 495.0 576.0 C483.3 581.7 467.5 571.7 445.0 571.0 C422.5 570.3 382.5 572.5 360.0 572.0 C337.5 571.5 322.2 568.0 310.0 568.0 C297.8 568.0 294.9 572.7 287.0 572.0 C279.1 571.3 271.4 565.6 262.6 564.0 C253.8 562.4 241.3 562.2 234.0 562.5 C226.7 562.8 225.2 566.0 219.0 566.0 C212.8 566.0 205.0 563.7 196.6 562.5 C188.2 561.3 175.2 560.3 168.3 558.7 C161.4 557.1 157.4 555.2 155.0 553.0 C152.6 550.8 152.7 548.3 154.0 545.5 C155.3 542.7 159.0 539.1 162.6 536.0 C166.2 532.9 171.4 529.4 175.8 526.6 C180.2 523.8 185.5 522.1 189.0 519.0 C192.5 515.9 195.0 513.0 196.6 507.7 C198.2 502.4 197.3 491.0 198.5 487.0 C199.7 483.0 200.8 486.8 204.0 483.7 C207.2 480.6 214.6 474.0 217.7 468.4 C220.8 462.8 220.0 455.6 222.3 450.0 C224.6 444.4 228.6 440.2 231.5 435.0 C234.4 429.8 237.7 424.1 239.5 419.0 C241.3 413.9 240.2 409.3 242.4 404.5 C244.6 399.7 251.3 394.9 252.6 390.0 C253.9 385.1 251.3 381.7 250.0 375.0 C248.7 368.3 246.1 357.0 244.8 349.7 C243.5 342.4 243.0 336.7 242.2 331.4 C241.4 326.1 241.2 325.1 240.0 318.0 C238.8 310.9 236.7 297.3 235.0 289.0 C233.3 280.7 232.2 275.3 229.7 268.0 C227.2 260.7 222.9 252.0 220.0 245.0 C217.1 238.0 213.3 232.0 212.0 226.0 C210.7 220.0 210.8 215.0 212.0 209.0 C213.2 203.0 216.9 195.2 219.0 190.0 C221.1 184.8 224.8 182.6 224.5 177.6 C224.2 172.6 218.1 165.5 217.5 160.0 C216.9 154.5 221.3 148.6 221.0 144.5 C220.7 140.4 220.1 138.3 215.7 135.7 C211.3 133.1 200.6 131.8 194.8 128.8 C189.0 125.9 185.1 121.2 181.0 118.0 C176.9 114.8 170.5 112.4 170.5 109.6 Z"/>
    <path d="M126.3 447.6 C126.3 444.7 131.2 438.9 135.0 436.3 C138.8 433.7 144.3 432.8 149.0 431.9 C153.7 431.0 158.9 432.2 163.0 431.0 C167.1 429.8 169.4 425.8 173.5 424.9 C177.6 424.0 183.4 424.4 187.5 425.8 C191.6 427.1 194.8 430.7 198.0 432.8 C201.2 434.8 204.1 436.0 206.8 438.0 C209.4 440.0 212.9 442.7 213.8 445.0 C214.6 447.3 214.9 450.1 212.0 452.0 C209.1 453.9 202.7 455.2 196.2 456.4 C189.8 457.6 180.8 458.7 173.5 459.0 C166.2 459.3 158.9 458.9 152.5 458.0 C146.1 457.1 139.4 455.5 135.0 453.8 C130.6 452.0 126.3 450.5 126.3 447.6 Z"/>
    <path d="M39.6 487.0 C39.0 484.7 41.2 482.6 44.0 480.0 C46.8 477.4 51.3 473.6 56.2 471.2 C61.2 468.9 68.5 467.2 73.8 466.0 C79.0 464.8 83.4 465.4 87.8 464.2 C92.1 463.1 95.6 460.6 100.0 459.0 C104.4 457.4 108.8 455.5 114.0 454.6 C119.2 453.7 126.5 452.7 131.5 453.8 C136.5 454.8 140.2 458.4 143.8 460.8 C147.2 463.1 148.7 465.1 152.5 467.8 C156.3 470.4 162.1 473.9 166.5 476.5 C170.9 479.1 176.1 481.2 178.8 483.5 C181.4 485.8 182.2 488.2 182.2 490.5 C182.2 492.8 182.2 495.5 178.8 497.5 C175.2 499.5 168.5 501.3 161.2 502.8 C154.0 504.2 145.2 505.7 135.0 506.2 C124.8 506.8 110.2 506.4 100.0 506.2 C89.8 506.1 79.9 506.9 73.8 505.4 C67.6 503.9 67.6 499.4 63.2 497.5 C58.9 495.6 51.4 495.8 47.5 494.0 C43.6 492.2 40.2 489.3 39.6 487.0 Z"/>
  </g>
  <g clip-path="url(#mainclip)" opacity="0.5"><g filter="url(#pb4)"><ellipse cx="378.2" cy="581.0" rx="19.0" ry="10.8" fill="#a8bccf"/><ellipse cx="379.8" cy="578.0" rx="17.9" ry="10.2" fill="#fbfcfe"/><ellipse cx="280.1" cy="578.2" rx="16.1" ry="8.4" fill="#a8bccf"/><ellipse cx="281.5" cy="575.8" rx="15.2" ry="8.0" fill="#fbfcfe"/><ellipse cx="312.6" cy="580.4" rx="43.3" ry="29.3" fill="#a8bccf"/><ellipse cx="316.3" cy="572.1" rx="40.8" ry="27.7" fill="#fbfcfe"/><ellipse cx="471.4" cy="565.7" rx="44.2" ry="22.2" fill="#a8bccf"/><ellipse cx="475.1" cy="559.5" rx="41.7" ry="20.9" fill="#fbfcfe"/><ellipse cx="231.0" cy="561.7" rx="13.8" ry="10.3" fill="#a8bccf"/><ellipse cx="232.1" cy="558.8" rx="13.0" ry="9.7" fill="#fbfcfe"/><ellipse cx="312.2" cy="563.2" rx="41.5" ry="22.4" fill="#a8bccf"/><ellipse cx="315.7" cy="556.8" rx="39.2" ry="21.2" fill="#fbfcfe"/><ellipse cx="419.8" cy="558.0" rx="13.5" ry="9.1" fill="#a8bccf"/><ellipse cx="420.9" cy="555.4" rx="12.7" ry="8.6" fill="#fbfcfe"/><ellipse cx="516.1" cy="551.1" rx="38.0" ry="19.1" fill="#a8bccf"/><ellipse cx="519.3" cy="545.7" rx="35.8" ry="18.0" fill="#fbfcfe"/><ellipse cx="252.0" cy="540.2" rx="25.0" ry="17.1" fill="#a8bccf"/><ellipse cx="254.2" cy="535.4" rx="23.6" ry="16.1" fill="#fbfcfe"/><ellipse cx="229.6" cy="538.0" rx="26.3" ry="14.7" fill="#a8bccf"/><ellipse cx="231.9" cy="533.8" rx="24.8" ry="13.9" fill="#fbfcfe"/><ellipse cx="360.6" cy="538.0" rx="43.6" ry="26.9" fill="#a8bccf"/><ellipse cx="364.3" cy="530.4" rx="41.1" ry="25.4" fill="#fbfcfe"/><ellipse cx="331.4" cy="527.9" rx="24.5" ry="13.2" fill="#a8bccf"/><ellipse cx="333.5" cy="524.1" rx="23.1" ry="12.5" fill="#fbfcfe"/><ellipse cx="481.4" cy="525.0" rx="15.2" ry="9.0" fill="#a8bccf"/><ellipse cx="482.7" cy="522.4" rx="14.3" ry="8.5" fill="#fbfcfe"/><ellipse cx="509.6" cy="524.8" rx="25.7" ry="15.7" fill="#a8bccf"/><ellipse cx="511.8" cy="520.3" rx="24.3" ry="14.8" fill="#fbfcfe"/><ellipse cx="205.3" cy="521.4" rx="33.5" ry="17.0" fill="#a8bccf"/><ellipse cx="208.1" cy="516.6" rx="31.6" ry="16.0" fill="#fbfcfe"/><ellipse cx="211.9" cy="514.8" rx="33.6" ry="18.1" fill="#a8bccf"/><ellipse cx="214.8" cy="509.7" rx="31.7" ry="17.0" fill="#fbfcfe"/><ellipse cx="300.9" cy="513.8" rx="26.2" ry="18.6" fill="#a8bccf"/><ellipse cx="303.2" cy="508.5" rx="24.8" ry="17.5" fill="#fbfcfe"/><ellipse cx="148.1" cy="511.2" rx="17.8" ry="13.8" fill="#a8bccf"/><ellipse cx="149.6" cy="507.3" rx="16.8" ry="13.0" fill="#fbfcfe"/><ellipse cx="104.8" cy="509.2" rx="10.3" ry="6.3" fill="#a8bccf"/><ellipse cx="105.7" cy="507.4" rx="9.7" ry="6.0" fill="#fbfcfe"/><ellipse cx="412.2" cy="511.7" rx="34.9" ry="24.6" fill="#a8bccf"/><ellipse cx="415.2" cy="504.8" rx="33.0" ry="23.2" fill="#fbfcfe"/><ellipse cx="403.2" cy="506.6" rx="31.3" ry="18.1" fill="#a8bccf"/><ellipse cx="405.8" cy="501.5" rx="29.5" ry="17.0" fill="#fbfcfe"/><ellipse cx="219.8" cy="508.6" rx="38.4" ry="29.6" fill="#a8bccf"/><ellipse cx="223.0" cy="500.3" rx="36.2" ry="27.9" fill="#fbfcfe"/><ellipse cx="47.2" cy="503.5" rx="10.2" ry="6.3" fill="#a8bccf"/><ellipse cx="48.1" cy="501.7" rx="9.6" ry="6.0" fill="#fbfcfe"/><ellipse cx="396.3" cy="502.8" rx="19.7" ry="10.5" fill="#a8bccf"/><ellipse cx="397.9" cy="499.8" rx="18.6" ry="9.9" fill="#fbfcfe"/><ellipse cx="95.0" cy="502.4" rx="17.4" ry="9.5" fill="#a8bccf"/><ellipse cx="96.4" cy="499.7" rx="16.5" ry="9.0" fill="#fbfcfe"/><ellipse cx="255.8" cy="502.2" rx="17.6" ry="12.4" fill="#a8bccf"/><ellipse cx="257.3" cy="498.7" rx="16.6" ry="11.7" fill="#fbfcfe"/><ellipse cx="462.9" cy="505.3" rx="42.1" ry="32.2" fill="#a8bccf"/><ellipse cx="466.5" cy="496.2" rx="39.8" ry="30.4" fill="#fbfcfe"/><ellipse cx="191.4" cy="498.3" rx="15.1" ry="8.3" fill="#a8bccf"/><ellipse cx="192.7" cy="495.9" rx="14.2" ry="7.8" fill="#fbfcfe"/><ellipse cx="164.4" cy="497.7" rx="9.9" ry="6.0" fill="#a8bccf"/><ellipse cx="165.2" cy="496.0" rx="9.4" ry="5.6" fill="#fbfcfe"/><ellipse cx="144.2" cy="497.3" rx="15.8" ry="10.2" fill="#a8bccf"/><ellipse cx="145.5" cy="494.4" rx="14.9" ry="9.6" fill="#fbfcfe"/><ellipse cx="199.4" cy="497.0" rx="18.9" ry="12.2" fill="#a8bccf"/><ellipse cx="201.0" cy="493.5" rx="17.8" ry="11.6" fill="#fbfcfe"/><ellipse cx="86.2" cy="492.0" rx="8.5" ry="5.1" fill="#a8bccf"/><ellipse cx="86.9" cy="490.6" rx="8.0" ry="4.8" fill="#fbfcfe"/><ellipse cx="159.9" cy="492.5" rx="15.6" ry="12.3" fill="#a8bccf"/><ellipse cx="161.2" cy="489.0" rx="14.8" ry="11.6" fill="#fbfcfe"/><ellipse cx="299.4" cy="493.5" rx="28.6" ry="18.3" fill="#a8bccf"/><ellipse cx="301.8" cy="488.3" rx="27.0" ry="17.2" fill="#fbfcfe"/><ellipse cx="118.6" cy="490.5" rx="9.0" ry="6.2" fill="#a8bccf"/><ellipse cx="119.4" cy="488.7" rx="8.5" ry="5.9" fill="#fbfcfe"/><ellipse cx="133.1" cy="490.7" rx="15.2" ry="11.8" fill="#a8bccf"/><ellipse cx="134.4" cy="487.3" rx="14.3" ry="11.2" fill="#fbfcfe"/><ellipse cx="172.0" cy="492.7" rx="31.4" ry="23.2" fill="#a8bccf"/><ellipse cx="174.7" cy="486.2" rx="29.6" ry="21.9" fill="#fbfcfe"/><ellipse cx="192.4" cy="489.6" rx="16.2" ry="9.3" fill="#a8bccf"/><ellipse cx="193.8" cy="487.0" rx="15.3" ry="8.8" fill="#fbfcfe"/><ellipse cx="459.5" cy="490.8" rx="29.6" ry="15.2" fill="#a8bccf"/><ellipse cx="462.0" cy="486.5" rx="27.9" ry="14.4" fill="#fbfcfe"/><ellipse cx="147.5" cy="490.1" rx="16.9" ry="12.8" fill="#a8bccf"/><ellipse cx="149.0" cy="486.5" rx="15.9" ry="12.1" fill="#fbfcfe"/><ellipse cx="377.8" cy="489.7" rx="29.3" ry="20.5" fill="#a8bccf"/><ellipse cx="380.3" cy="483.9" rx="27.6" ry="19.3" fill="#fbfcfe"/><ellipse cx="218.0" cy="487.8" rx="16.7" ry="13.0" fill="#a8bccf"/><ellipse cx="219.5" cy="484.1" rx="15.7" ry="12.3" fill="#fbfcfe"/><ellipse cx="50.0" cy="487.1" rx="13.6" ry="10.5" fill="#a8bccf"/><ellipse cx="51.2" cy="484.1" rx="12.9" ry="9.9" fill="#fbfcfe"/><ellipse cx="182.1" cy="489.1" rx="43.8" ry="26.6" fill="#a8bccf"/><ellipse cx="185.9" cy="481.6" rx="41.3" ry="25.1" fill="#fbfcfe"/><ellipse cx="186.1" cy="488.3" rx="36.9" ry="23.4" fill="#a8bccf"/><ellipse cx="189.3" cy="481.7" rx="34.8" ry="22.1" fill="#fbfcfe"/><ellipse cx="183.2" cy="487.9" rx="37.4" ry="22.9" fill="#a8bccf"/><ellipse cx="186.4" cy="481.4" rx="35.3" ry="21.6" fill="#fbfcfe"/><ellipse cx="119.5" cy="484.9" rx="16.8" ry="9.3" fill="#a8bccf"/><ellipse cx="120.9" cy="482.3" rx="15.8" ry="8.8" fill="#fbfcfe"/><ellipse cx="437.7" cy="485.4" rx="28.1" ry="14.5" fill="#a8bccf"/><ellipse cx="440.0" cy="481.3" rx="26.5" ry="13.7" fill="#fbfcfe"/><ellipse cx="83.0" cy="483.7" rx="18.8" ry="12.4" fill="#a8bccf"/><ellipse cx="84.6" cy="480.2" rx="17.8" ry="11.7" fill="#fbfcfe"/><ellipse cx="114.1" cy="481.7" rx="11.6" ry="6.3" fill="#a8bccf"/><ellipse cx="115.1" cy="480.0" rx="10.9" ry="5.9" fill="#fbfcfe"/><ellipse cx="189.2" cy="482.0" rx="13.5" ry="9.9" fill="#a8bccf"/><ellipse cx="190.3" cy="479.2" rx="12.7" ry="9.3" fill="#fbfcfe"/><ellipse cx="152.1" cy="478.9" rx="9.1" ry="7.2" fill="#a8bccf"/><ellipse cx="152.9" cy="476.9" rx="8.6" ry="6.8" fill="#fbfcfe"/><ellipse cx="221.6" cy="478.4" rx="23.1" ry="13.8" fill="#a8bccf"/><ellipse cx="223.6" cy="474.5" rx="21.8" ry="13.1" fill="#fbfcfe"/><ellipse cx="476.6" cy="479.3" rx="40.8" ry="27.7" fill="#a8bccf"/><ellipse cx="480.1" cy="471.4" rx="38.4" ry="26.2" fill="#fbfcfe"/><ellipse cx="455.1" cy="477.2" rx="42.2" ry="23.6" fill="#a8bccf"/><ellipse cx="458.7" cy="470.5" rx="39.8" ry="22.3" fill="#fbfcfe"/><ellipse cx="240.3" cy="477.4" rx="38.4" ry="25.1" fill="#a8bccf"/><ellipse cx="243.5" cy="470.3" rx="36.2" ry="23.7" fill="#fbfcfe"/><ellipse cx="453.6" cy="472.9" rx="13.0" ry="8.3" fill="#a8bccf"/><ellipse cx="454.7" cy="470.6" rx="12.2" ry="7.8" fill="#fbfcfe"/><ellipse cx="65.4" cy="471.8" rx="9.8" ry="7.2" fill="#a8bccf"/><ellipse cx="66.2" cy="469.7" rx="9.2" ry="6.8" fill="#fbfcfe"/><ellipse cx="56.0" cy="469.9" rx="9.0" ry="4.7" fill="#a8bccf"/><ellipse cx="56.8" cy="468.6" rx="8.5" ry="4.5" fill="#fbfcfe"/><ellipse cx="170.6" cy="470.0" rx="12.5" ry="7.3" fill="#a8bccf"/><ellipse cx="171.7" cy="468.0" rx="11.8" ry="6.9" fill="#fbfcfe"/><ellipse cx="295.2" cy="470.0" rx="13.8" ry="9.0" fill="#a8bccf"/><ellipse cx="296.4" cy="467.4" rx="13.0" ry="8.5" fill="#fbfcfe"/><ellipse cx="163.9" cy="469.9" rx="18.8" ry="13.1" fill="#a8bccf"/><ellipse cx="165.5" cy="466.2" rx="17.7" ry="12.3" fill="#fbfcfe"/><ellipse cx="55.0" cy="468.4" rx="11.6" ry="7.4" fill="#a8bccf"/><ellipse cx="56.0" cy="466.4" rx="11.0" ry="6.9" fill="#fbfcfe"/><ellipse cx="496.8" cy="470.3" rx="32.7" ry="23.8" fill="#a8bccf"/><ellipse cx="499.6" cy="463.6" rx="30.8" ry="22.4" fill="#fbfcfe"/><ellipse cx="497.3" cy="464.7" rx="31.2" ry="17.3" fill="#a8bccf"/><ellipse cx="499.9" cy="459.8" rx="29.4" ry="16.3" fill="#fbfcfe"/><ellipse cx="212.9" cy="462.6" rx="14.6" ry="8.9" fill="#a8bccf"/><ellipse cx="214.1" cy="460.1" rx="13.7" ry="8.4" fill="#fbfcfe"/><ellipse cx="166.1" cy="460.3" rx="12.6" ry="9.1" fill="#a8bccf"/><ellipse cx="167.2" cy="457.7" rx="11.9" ry="8.6" fill="#fbfcfe"/><ellipse cx="183.3" cy="459.9" rx="18.3" ry="13.1" fill="#a8bccf"/><ellipse cx="184.8" cy="456.3" rx="17.3" ry="12.3" fill="#fbfcfe"/><ellipse cx="146.5" cy="459.0" rx="13.2" ry="9.5" fill="#a8bccf"/><ellipse cx="147.6" cy="456.3" rx="12.4" ry="9.0" fill="#fbfcfe"/><ellipse cx="445.3" cy="461.3" rx="31.2" ry="22.4" fill="#a8bccf"/><ellipse cx="448.0" cy="455.0" rx="29.4" ry="21.2" fill="#fbfcfe"/><ellipse cx="442.9" cy="456.8" rx="18.7" ry="9.7" fill="#a8bccf"/><ellipse cx="444.5" cy="454.1" rx="17.6" ry="9.1" fill="#fbfcfe"/><ellipse cx="207.5" cy="455.4" rx="15.2" ry="11.3" fill="#a8bccf"/><ellipse cx="208.8" cy="452.2" rx="14.3" ry="10.7" fill="#fbfcfe"/><ellipse cx="55.7" cy="455.2" rx="15.9" ry="11.9" fill="#a8bccf"/><ellipse cx="57.0" cy="451.8" rx="15.0" ry="11.3" fill="#fbfcfe"/><ellipse cx="65.4" cy="453.6" rx="10.7" ry="5.5" fill="#a8bccf"/><ellipse cx="66.3" cy="452.0" rx="10.1" ry="5.1" fill="#fbfcfe"/><ellipse cx="460.5" cy="453.9" rx="17.5" ry="10.4" fill="#a8bccf"/><ellipse cx="462.0" cy="451.0" rx="16.5" ry="9.8" fill="#fbfcfe"/><ellipse cx="487.6" cy="453.6" rx="24.6" ry="14.2" fill="#a8bccf"/><ellipse cx="489.7" cy="449.6" rx="23.2" ry="13.4" fill="#fbfcfe"/><ellipse cx="161.2" cy="452.0" rx="15.0" ry="10.9" fill="#a8bccf"/><ellipse cx="162.5" cy="448.9" rx="14.2" ry="10.2" fill="#fbfcfe"/><ellipse cx="93.8" cy="450.8" rx="13.1" ry="10.0" fill="#a8bccf"/><ellipse cx="94.9" cy="448.0" rx="12.3" ry="9.4" fill="#fbfcfe"/><ellipse cx="68.7" cy="450.2" rx="16.6" ry="9.4" fill="#a8bccf"/><ellipse cx="70.1" cy="447.5" rx="15.6" ry="8.9" fill="#fbfcfe"/><ellipse cx="150.3" cy="447.7" rx="11.3" ry="8.4" fill="#a8bccf"/><ellipse cx="151.2" cy="445.4" rx="10.7" ry="7.9" fill="#fbfcfe"/><ellipse cx="92.4" cy="446.7" rx="12.2" ry="8.1" fill="#a8bccf"/><ellipse cx="93.5" cy="444.4" rx="11.5" ry="7.6" fill="#fbfcfe"/><ellipse cx="452.8" cy="449.9" rx="40.8" ry="24.8" fill="#a8bccf"/><ellipse cx="456.3" cy="442.9" rx="38.5" ry="23.4" fill="#fbfcfe"/><ellipse cx="215.5" cy="446.5" rx="15.1" ry="9.0" fill="#a8bccf"/><ellipse cx="216.8" cy="444.0" rx="14.3" ry="8.5" fill="#fbfcfe"/><ellipse cx="196.7" cy="446.0" rx="19.0" ry="11.4" fill="#a8bccf"/><ellipse cx="198.3" cy="442.8" rx="18.0" ry="10.7" fill="#fbfcfe"/><ellipse cx="71.8" cy="444.6" rx="12.1" ry="7.1" fill="#a8bccf"/><ellipse cx="72.9" cy="442.6" rx="11.4" ry="6.7" fill="#fbfcfe"/><ellipse cx="81.2" cy="443.0" rx="12.7" ry="9.4" fill="#a8bccf"/><ellipse cx="82.2" cy="440.4" rx="12.0" ry="8.8" fill="#fbfcfe"/><ellipse cx="437.8" cy="445.7" rx="44.3" ry="27.2" fill="#a8bccf"/><ellipse cx="441.6" cy="438.0" rx="41.8" ry="25.6" fill="#fbfcfe"/><ellipse cx="359.1" cy="440.5" rx="13.6" ry="7.7" fill="#a8bccf"/><ellipse cx="360.3" cy="438.3" rx="12.8" ry="7.2" fill="#fbfcfe"/><ellipse cx="182.9" cy="439.3" rx="14.6" ry="9.7" fill="#a8bccf"/><ellipse cx="184.1" cy="436.5" rx="13.7" ry="9.1" fill="#fbfcfe"/><ellipse cx="469.3" cy="439.6" rx="27.2" ry="15.5" fill="#a8bccf"/><ellipse cx="471.6" cy="435.2" rx="25.7" ry="14.7" fill="#fbfcfe"/><ellipse cx="106.1" cy="435.0" rx="8.5" ry="4.5" fill="#a8bccf"/><ellipse cx="106.8" cy="433.7" rx="8.0" ry="4.2" fill="#fbfcfe"/><ellipse cx="348.1" cy="433.7" rx="19.6" ry="13.9" fill="#a8bccf"/><ellipse cx="349.8" cy="429.7" rx="18.5" ry="13.1" fill="#fbfcfe"/><ellipse cx="174.9" cy="432.8" rx="18.3" ry="10.9" fill="#a8bccf"/><ellipse cx="176.4" cy="429.8" rx="17.3" ry="10.2" fill="#fbfcfe"/><ellipse cx="218.4" cy="432.4" rx="18.7" ry="14.5" fill="#a8bccf"/><ellipse cx="220.0" cy="428.3" rx="17.6" ry="13.7" fill="#fbfcfe"/><ellipse cx="514.6" cy="428.2" rx="13.3" ry="8.7" fill="#a8bccf"/><ellipse cx="515.7" cy="425.7" rx="12.6" ry="8.2" fill="#fbfcfe"/><ellipse cx="168.1" cy="426.1" rx="11.8" ry="6.4" fill="#a8bccf"/><ellipse cx="169.1" cy="424.3" rx="11.1" ry="6.0" fill="#fbfcfe"/><ellipse cx="235.8" cy="427.1" rx="29.9" ry="15.7" fill="#a8bccf"/><ellipse cx="238.3" cy="422.6" rx="28.2" ry="14.8" fill="#fbfcfe"/><ellipse cx="276.5" cy="427.8" rx="29.4" ry="19.7" fill="#a8bccf"/><ellipse cx="279.0" cy="422.2" rx="27.8" ry="18.6" fill="#fbfcfe"/><ellipse cx="255.0" cy="424.7" rx="22.7" ry="11.6" fill="#a8bccf"/><ellipse cx="257.0" cy="421.4" rx="21.4" ry="11.0" fill="#fbfcfe"/><ellipse cx="221.1" cy="423.1" rx="32.9" ry="21.2" fill="#a8bccf"/><ellipse cx="223.9" cy="417.1" rx="31.0" ry="20.0" fill="#fbfcfe"/><ellipse cx="417.7" cy="418.2" rx="41.3" ry="32.5" fill="#a8bccf"/><ellipse cx="421.2" cy="409.0" rx="39.0" ry="30.7" fill="#fbfcfe"/><ellipse cx="201.3" cy="407.4" rx="26.8" ry="15.3" fill="#a8bccf"/><ellipse cx="203.6" cy="403.0" rx="25.3" ry="14.4" fill="#fbfcfe"/><ellipse cx="411.1" cy="405.0" rx="25.1" ry="18.6" fill="#a8bccf"/><ellipse cx="413.2" cy="399.7" rx="23.7" ry="17.5" fill="#fbfcfe"/><ellipse cx="417.9" cy="401.6" rx="17.8" ry="9.4" fill="#a8bccf"/><ellipse cx="419.4" cy="398.9" rx="16.7" ry="8.9" fill="#fbfcfe"/><ellipse cx="286.2" cy="400.4" rx="24.4" ry="13.6" fill="#a8bccf"/><ellipse cx="288.3" cy="396.6" rx="23.0" ry="12.9" fill="#fbfcfe"/><ellipse cx="166.3" cy="397.7" rx="27.2" ry="15.4" fill="#a8bccf"/><ellipse cx="168.6" cy="393.3" rx="25.6" ry="14.5" fill="#fbfcfe"/><ellipse cx="319.5" cy="398.9" rx="37.2" ry="27.0" fill="#a8bccf"/><ellipse cx="322.6" cy="391.2" rx="35.1" ry="25.5" fill="#fbfcfe"/><ellipse cx="306.5" cy="391.5" rx="31.8" ry="22.5" fill="#a8bccf"/><ellipse cx="309.2" cy="385.1" rx="30.0" ry="21.2" fill="#fbfcfe"/><ellipse cx="271.3" cy="390.5" rx="41.0" ry="21.4" fill="#a8bccf"/><ellipse cx="274.8" cy="384.5" rx="38.7" ry="20.2" fill="#fbfcfe"/><ellipse cx="491.9" cy="382.0" rx="13.8" ry="8.3" fill="#a8bccf"/><ellipse cx="493.0" cy="379.6" rx="13.0" ry="7.8" fill="#fbfcfe"/><ellipse cx="292.2" cy="383.9" rx="32.0" ry="23.3" fill="#a8bccf"/><ellipse cx="294.9" cy="377.3" rx="30.2" ry="22.0" fill="#fbfcfe"/><ellipse cx="242.9" cy="381.0" rx="30.4" ry="20.9" fill="#a8bccf"/><ellipse cx="245.5" cy="375.1" rx="28.7" ry="19.7" fill="#fbfcfe"/><ellipse cx="173.3" cy="380.2" rx="35.0" ry="20.0" fill="#a8bccf"/><ellipse cx="176.2" cy="374.6" rx="33.0" ry="18.9" fill="#fbfcfe"/><ellipse cx="468.2" cy="379.7" rx="32.4" ry="20.8" fill="#a8bccf"/><ellipse cx="471.0" cy="373.8" rx="30.6" ry="19.6" fill="#fbfcfe"/><ellipse cx="251.4" cy="373.5" rx="15.8" ry="8.9" fill="#a8bccf"/><ellipse cx="252.8" cy="371.0" rx="14.9" ry="8.4" fill="#fbfcfe"/><ellipse cx="234.9" cy="373.7" rx="21.5" ry="13.2" fill="#a8bccf"/><ellipse cx="236.8" cy="369.9" rx="20.3" ry="12.5" fill="#fbfcfe"/><ellipse cx="290.7" cy="373.0" rx="22.5" ry="11.9" fill="#a8bccf"/><ellipse cx="292.6" cy="369.7" rx="21.2" ry="11.3" fill="#fbfcfe"/><ellipse cx="434.1" cy="372.8" rx="26.8" ry="17.4" fill="#a8bccf"/><ellipse cx="436.4" cy="367.9" rx="25.3" ry="16.5" fill="#fbfcfe"/><ellipse cx="382.3" cy="365.3" rx="15.5" ry="10.0" fill="#a8bccf"/><ellipse cx="383.6" cy="362.4" rx="14.6" ry="9.4" fill="#fbfcfe"/><ellipse cx="166.0" cy="365.1" rx="15.3" ry="11.8" fill="#a8bccf"/><ellipse cx="167.3" cy="361.8" rx="14.4" ry="11.1" fill="#fbfcfe"/><ellipse cx="320.0" cy="367.1" rx="39.7" ry="23.5" fill="#a8bccf"/><ellipse cx="323.4" cy="360.4" rx="37.5" ry="22.2" fill="#fbfcfe"/><ellipse cx="320.1" cy="363.8" rx="13.6" ry="9.5" fill="#a8bccf"/><ellipse cx="321.2" cy="361.1" rx="12.8" ry="8.9" fill="#fbfcfe"/><ellipse cx="331.1" cy="350.2" rx="23.6" ry="15.2" fill="#a8bccf"/><ellipse cx="333.1" cy="345.9" rx="22.3" ry="14.4" fill="#fbfcfe"/><ellipse cx="349.2" cy="350.4" rx="42.9" ry="22.7" fill="#a8bccf"/><ellipse cx="352.8" cy="343.9" rx="40.4" ry="21.4" fill="#fbfcfe"/><ellipse cx="162.1" cy="345.0" rx="15.7" ry="9.3" fill="#a8bccf"/><ellipse cx="163.5" cy="342.4" rx="14.8" ry="8.8" fill="#fbfcfe"/><ellipse cx="512.5" cy="343.8" rx="25.7" ry="18.2" fill="#a8bccf"/><ellipse cx="514.7" cy="338.7" rx="24.3" ry="17.2" fill="#fbfcfe"/><ellipse cx="432.6" cy="338.2" rx="17.9" ry="10.8" fill="#a8bccf"/><ellipse cx="434.2" cy="335.1" rx="16.9" ry="10.2" fill="#fbfcfe"/><ellipse cx="435.9" cy="335.1" rx="15.2" ry="11.4" fill="#a8bccf"/><ellipse cx="437.1" cy="331.9" rx="14.3" ry="10.7" fill="#fbfcfe"/><ellipse cx="499.3" cy="329.2" rx="16.6" ry="9.5" fill="#a8bccf"/><ellipse cx="500.8" cy="326.5" rx="15.7" ry="9.0" fill="#fbfcfe"/><ellipse cx="332.7" cy="330.2" rx="19.8" ry="14.6" fill="#a8bccf"/><ellipse cx="334.4" cy="326.1" rx="18.7" ry="13.8" fill="#fbfcfe"/><ellipse cx="184.1" cy="330.1" rx="34.3" ry="19.1" fill="#a8bccf"/><ellipse cx="187.0" cy="324.7" rx="32.3" ry="18.0" fill="#fbfcfe"/><ellipse cx="386.7" cy="330.2" rx="36.1" ry="28.5" fill="#a8bccf"/><ellipse cx="389.8" cy="322.1" rx="34.0" ry="26.9" fill="#fbfcfe"/><ellipse cx="234.3" cy="319.9" rx="22.4" ry="13.4" fill="#a8bccf"/><ellipse cx="236.2" cy="316.1" rx="21.1" ry="12.7" fill="#fbfcfe"/><ellipse cx="347.1" cy="320.1" rx="30.2" ry="21.9" fill="#a8bccf"/><ellipse cx="349.6" cy="313.9" rx="28.5" ry="20.7" fill="#fbfcfe"/><ellipse cx="494.4" cy="318.2" rx="24.7" ry="14.2" fill="#a8bccf"/><ellipse cx="496.5" cy="314.2" rx="23.3" ry="13.4" fill="#fbfcfe"/><ellipse cx="304.9" cy="318.5" rx="32.8" ry="25.9" fill="#a8bccf"/><ellipse cx="307.7" cy="311.2" rx="31.0" ry="24.4" fill="#fbfcfe"/><ellipse cx="452.2" cy="315.5" rx="39.3" ry="20.3" fill="#a8bccf"/><ellipse cx="455.6" cy="309.7" rx="37.1" ry="19.1" fill="#fbfcfe"/><ellipse cx="191.1" cy="313.7" rx="28.4" ry="20.3" fill="#a8bccf"/><ellipse cx="193.5" cy="307.9" rx="26.8" ry="19.1" fill="#fbfcfe"/><ellipse cx="442.4" cy="312.5" rx="20.7" ry="16.3" fill="#a8bccf"/><ellipse cx="444.2" cy="307.8" rx="19.6" ry="15.4" fill="#fbfcfe"/><ellipse cx="204.7" cy="312.2" rx="39.0" ry="21.9" fill="#a8bccf"/><ellipse cx="208.0" cy="306.0" rx="36.8" ry="20.6" fill="#fbfcfe"/><ellipse cx="397.1" cy="310.1" rx="30.4" ry="18.5" fill="#a8bccf"/><ellipse cx="399.7" cy="304.9" rx="28.7" ry="17.5" fill="#fbfcfe"/><ellipse cx="516.2" cy="306.6" rx="26.6" ry="18.2" fill="#a8bccf"/><ellipse cx="518.5" cy="301.4" rx="25.1" ry="17.2" fill="#fbfcfe"/><ellipse cx="441.3" cy="303.1" rx="16.2" ry="12.7" fill="#a8bccf"/><ellipse cx="442.7" cy="299.5" rx="15.2" ry="12.0" fill="#fbfcfe"/><ellipse cx="177.6" cy="288.7" rx="20.6" ry="14.6" fill="#a8bccf"/><ellipse cx="179.3" cy="284.5" rx="19.4" ry="13.8" fill="#fbfcfe"/><ellipse cx="190.6" cy="273.4" rx="18.4" ry="12.2" fill="#a8bccf"/><ellipse cx="192.2" cy="270.0" rx="17.3" ry="11.5" fill="#fbfcfe"/><ellipse cx="229.9" cy="273.1" rx="30.3" ry="17.2" fill="#a8bccf"/><ellipse cx="232.4" cy="268.2" rx="28.6" ry="16.2" fill="#fbfcfe"/><ellipse cx="355.4" cy="265.5" rx="25.5" ry="14.5" fill="#a8bccf"/><ellipse cx="357.6" cy="261.4" rx="24.0" ry="13.6" fill="#fbfcfe"/><ellipse cx="329.4" cy="266.3" rx="44.4" ry="27.3" fill="#a8bccf"/><ellipse cx="333.2" cy="258.5" rx="41.8" ry="25.8" fill="#fbfcfe"/><ellipse cx="524.1" cy="259.2" rx="33.0" ry="22.8" fill="#a8bccf"/><ellipse cx="526.9" cy="252.7" rx="31.1" ry="21.5" fill="#fbfcfe"/><ellipse cx="468.9" cy="250.1" rx="16.9" ry="8.6" fill="#a8bccf"/><ellipse cx="470.3" cy="247.7" rx="15.9" ry="8.1" fill="#fbfcfe"/><ellipse cx="297.2" cy="245.4" rx="36.7" ry="25.4" fill="#a8bccf"/><ellipse cx="300.4" cy="238.2" rx="34.6" ry="23.9" fill="#fbfcfe"/><ellipse cx="184.4" cy="242.6" rx="41.3" ry="32.8" fill="#a8bccf"/><ellipse cx="188.0" cy="233.3" rx="39.0" ry="31.0" fill="#fbfcfe"/><ellipse cx="463.0" cy="238.4" rx="21.3" ry="12.9" fill="#a8bccf"/><ellipse cx="464.8" cy="234.8" rx="20.1" ry="12.2" fill="#fbfcfe"/><ellipse cx="363.3" cy="232.0" rx="28.4" ry="16.1" fill="#a8bccf"/><ellipse cx="365.8" cy="227.4" rx="26.8" ry="15.2" fill="#fbfcfe"/><ellipse cx="277.6" cy="224.9" rx="25.2" ry="13.7" fill="#a8bccf"/><ellipse cx="279.7" cy="221.1" rx="23.7" ry="12.9" fill="#fbfcfe"/><ellipse cx="305.8" cy="225.9" rx="41.4" ry="24.3" fill="#a8bccf"/><ellipse cx="309.3" cy="219.1" rx="39.0" ry="23.0" fill="#fbfcfe"/><ellipse cx="162.4" cy="221.0" rx="22.8" ry="17.7" fill="#a8bccf"/><ellipse cx="164.3" cy="216.0" rx="21.5" ry="16.7" fill="#fbfcfe"/><ellipse cx="418.4" cy="216.1" rx="19.7" ry="11.1" fill="#a8bccf"/><ellipse cx="420.0" cy="213.0" rx="18.5" ry="10.4" fill="#fbfcfe"/><ellipse cx="256.8" cy="213.7" rx="26.1" ry="14.4" fill="#a8bccf"/><ellipse cx="259.0" cy="209.7" rx="24.6" ry="13.6" fill="#fbfcfe"/><ellipse cx="179.6" cy="211.3" rx="15.6" ry="9.3" fill="#a8bccf"/><ellipse cx="180.9" cy="208.7" rx="14.7" ry="8.8" fill="#fbfcfe"/><ellipse cx="361.3" cy="207.4" rx="37.2" ry="18.7" fill="#a8bccf"/><ellipse cx="364.4" cy="202.1" rx="35.0" ry="17.6" fill="#fbfcfe"/><ellipse cx="344.6" cy="202.0" rx="29.8" ry="19.0" fill="#a8bccf"/><ellipse cx="347.2" cy="196.6" rx="28.1" ry="17.9" fill="#fbfcfe"/><ellipse cx="417.0" cy="201.0" rx="43.0" ry="25.6" fill="#a8bccf"/><ellipse cx="420.6" cy="193.7" rx="40.5" ry="24.2" fill="#fbfcfe"/><ellipse cx="406.1" cy="194.9" rx="26.4" ry="16.2" fill="#a8bccf"/><ellipse cx="408.3" cy="190.3" rx="24.9" ry="15.3" fill="#fbfcfe"/><ellipse cx="351.3" cy="184.4" rx="12.8" ry="7.8" fill="#a8bccf"/><ellipse cx="352.4" cy="182.2" rx="12.1" ry="7.4" fill="#fbfcfe"/><ellipse cx="411.9" cy="184.3" rx="33.4" ry="21.2" fill="#a8bccf"/><ellipse cx="414.7" cy="178.3" rx="31.5" ry="20.0" fill="#fbfcfe"/><ellipse cx="416.4" cy="179.0" rx="37.5" ry="28.9" fill="#a8bccf"/><ellipse cx="419.6" cy="170.8" rx="35.3" ry="27.2" fill="#fbfcfe"/><ellipse cx="170.2" cy="176.4" rx="40.3" ry="24.2" fill="#a8bccf"/><ellipse cx="173.6" cy="169.6" rx="38.1" ry="22.9" fill="#fbfcfe"/><ellipse cx="454.4" cy="175.4" rx="43.5" ry="33.4" fill="#a8bccf"/><ellipse cx="458.1" cy="165.9" rx="41.1" ry="31.5" fill="#fbfcfe"/><ellipse cx="492.9" cy="173.7" rx="44.5" ry="29.6" fill="#a8bccf"/><ellipse cx="496.7" cy="165.3" rx="41.9" ry="28.0" fill="#fbfcfe"/><ellipse cx="426.4" cy="170.4" rx="23.4" ry="16.2" fill="#a8bccf"/><ellipse cx="428.4" cy="165.8" rx="22.1" ry="15.3" fill="#fbfcfe"/><ellipse cx="221.9" cy="159.3" rx="24.7" ry="17.6" fill="#a8bccf"/><ellipse cx="224.0" cy="154.3" rx="23.3" ry="16.6" fill="#fbfcfe"/><ellipse cx="265.5" cy="153.7" rx="25.0" ry="14.5" fill="#a8bccf"/><ellipse cx="267.6" cy="149.6" rx="23.5" ry="13.7" fill="#fbfcfe"/><ellipse cx="397.1" cy="155.3" rx="35.3" ry="22.9" fill="#a8bccf"/><ellipse cx="400.1" cy="148.8" rx="33.3" ry="21.6" fill="#fbfcfe"/><ellipse cx="227.5" cy="152.3" rx="23.8" ry="18.5" fill="#a8bccf"/><ellipse cx="229.6" cy="147.1" rx="22.4" ry="17.5" fill="#fbfcfe"/><ellipse cx="492.2" cy="146.7" rx="14.9" ry="11.1" fill="#a8bccf"/><ellipse cx="493.5" cy="143.6" rx="14.1" ry="10.4" fill="#fbfcfe"/><ellipse cx="403.8" cy="149.8" rx="42.3" ry="28.0" fill="#a8bccf"/><ellipse cx="407.4" cy="141.9" rx="39.9" ry="26.4" fill="#fbfcfe"/><ellipse cx="398.9" cy="140.7" rx="39.2" ry="22.7" fill="#a8bccf"/><ellipse cx="402.3" cy="134.3" rx="36.9" ry="21.4" fill="#fbfcfe"/><ellipse cx="347.0" cy="125.7" rx="43.0" ry="26.2" fill="#a8bccf"/><ellipse cx="350.7" cy="118.2" rx="40.6" ry="24.8" fill="#fbfcfe"/><ellipse cx="361.9" cy="124.0" rx="25.6" ry="18.6" fill="#a8bccf"/><ellipse cx="364.1" cy="118.7" rx="24.2" ry="17.6" fill="#fbfcfe"/><ellipse cx="238.1" cy="121.4" rx="42.2" ry="27.7" fill="#a8bccf"/><ellipse cx="241.7" cy="113.6" rx="39.8" ry="26.2" fill="#fbfcfe"/><ellipse cx="195.4" cy="110.6" rx="13.5" ry="8.6" fill="#a8bccf"/><ellipse cx="196.5" cy="108.2" rx="12.8" ry="8.1" fill="#fbfcfe"/><ellipse cx="168.5" cy="114.4" rx="35.6" ry="28.4" fill="#a8bccf"/><ellipse cx="171.5" cy="106.4" rx="33.5" ry="26.8" fill="#fbfcfe"/><ellipse cx="509.9" cy="108.1" rx="43.4" ry="31.8" fill="#a8bccf"/><ellipse cx="513.6" cy="99.1" rx="40.9" ry="30.0" fill="#fbfcfe"/><ellipse cx="369.2" cy="105.0" rx="22.3" ry="17.5" fill="#a8bccf"/><ellipse cx="371.1" cy="100.0" rx="21.1" ry="16.5" fill="#fbfcfe"/><ellipse cx="380.6" cy="100.5" rx="38.0" ry="21.6" fill="#a8bccf"/><ellipse cx="383.9" cy="94.4" rx="35.8" ry="20.4" fill="#fbfcfe"/><ellipse cx="261.9" cy="92.4" rx="13.9" ry="9.0" fill="#a8bccf"/><ellipse cx="263.1" cy="89.9" rx="13.1" ry="8.5" fill="#fbfcfe"/><ellipse cx="211.9" cy="94.5" rx="34.9" ry="21.8" fill="#a8bccf"/><ellipse cx="214.9" cy="88.4" rx="32.9" ry="20.5" fill="#fbfcfe"/><ellipse cx="241.0" cy="87.1" rx="18.7" ry="10.2" fill="#a8bccf"/><ellipse cx="242.6" cy="84.3" rx="17.6" ry="9.6" fill="#fbfcfe"/><ellipse cx="367.3" cy="89.6" rx="35.3" ry="26.9" fill="#a8bccf"/><ellipse cx="370.3" cy="82.0" rx="33.3" ry="25.4" fill="#fbfcfe"/><ellipse cx="246.3" cy="88.7" rx="44.4" ry="32.1" fill="#a8bccf"/><ellipse cx="250.1" cy="79.6" rx="41.9" ry="30.3" fill="#fbfcfe"/><ellipse cx="240.1" cy="84.3" rx="23.9" ry="15.8" fill="#a8bccf"/><ellipse cx="242.1" cy="79.9" rx="22.6" ry="14.9" fill="#fbfcfe"/><ellipse cx="229.1" cy="84.1" rx="40.3" ry="23.0" fill="#a8bccf"/><ellipse cx="232.5" cy="77.6" rx="38.0" ry="21.7" fill="#fbfcfe"/><ellipse cx="394.6" cy="74.6" rx="33.2" ry="21.0" fill="#a8bccf"/><ellipse cx="397.4" cy="68.7" rx="31.3" ry="19.8" fill="#fbfcfe"/><ellipse cx="308.0" cy="66.7" rx="33.8" ry="22.8" fill="#a8bccf"/><ellipse cx="310.8" cy="60.2" rx="31.9" ry="21.5" fill="#fbfcfe"/></g></g>
  <g clip-path="url(#mainclip)" opacity="0.15"><g filter="url(#pb)"><ellipse cx="478.7" cy="50.0" rx="21.8" ry="10.0" fill="#b9cadb"/><ellipse cx="477.1" cy="53.7" rx="20.2" ry="8.3" fill="#fbfcfe"/><ellipse cx="481.6" cy="50.2" rx="30.1" ry="13.1" fill="#b9cadb"/><ellipse cx="479.4" cy="55.1" rx="27.8" ry="10.9" fill="#fbfcfe"/><ellipse cx="178.4" cy="52.5" rx="26.5" ry="9.0" fill="#b9cadb"/><ellipse cx="176.4" cy="55.9" rx="24.6" ry="7.5" fill="#fbfcfe"/><ellipse cx="474.0" cy="53.5" rx="18.2" ry="6.6" fill="#b9cadb"/><ellipse cx="472.7" cy="56.0" rx="16.9" ry="5.5" fill="#fbfcfe"/><ellipse cx="371.2" cy="53.5" rx="25.0" ry="9.3" fill="#b9cadb"/><ellipse cx="369.4" cy="57.0" rx="23.1" ry="7.8" fill="#fbfcfe"/><ellipse cx="385.7" cy="53.5" rx="20.6" ry="9.5" fill="#b9cadb"/><ellipse cx="384.2" cy="57.1" rx="19.1" ry="7.9" fill="#fbfcfe"/><ellipse cx="219.7" cy="55.3" rx="30.4" ry="13.5" fill="#b9cadb"/><ellipse cx="217.5" cy="60.3" rx="28.1" ry="11.2" fill="#fbfcfe"/><ellipse cx="277.0" cy="58.7" rx="23.3" ry="9.6" fill="#b9cadb"/><ellipse cx="275.3" cy="62.3" rx="21.6" ry="8.0" fill="#fbfcfe"/><ellipse cx="436.2" cy="59.2" rx="26.2" ry="10.8" fill="#b9cadb"/><ellipse cx="434.3" cy="63.3" rx="24.3" ry="9.0" fill="#fbfcfe"/><ellipse cx="461.0" cy="61.1" rx="28.6" ry="11.7" fill="#b9cadb"/><ellipse cx="458.9" cy="65.5" rx="26.5" ry="9.7" fill="#fbfcfe"/><ellipse cx="185.7" cy="63.5" rx="23.5" ry="5.8" fill="#b9cadb"/><ellipse cx="183.9" cy="65.6" rx="21.7" ry="4.8" fill="#fbfcfe"/><ellipse cx="265.3" cy="62.3" rx="27.9" ry="12.5" fill="#b9cadb"/><ellipse cx="263.2" cy="67.0" rx="25.9" ry="10.5" fill="#fbfcfe"/><ellipse cx="273.2" cy="63.1" rx="35.7" ry="12.5" fill="#b9cadb"/><ellipse cx="270.5" cy="67.8" rx="33.0" ry="10.4" fill="#fbfcfe"/><ellipse cx="527.7" cy="66.0" rx="22.4" ry="8.5" fill="#b9cadb"/><ellipse cx="526.0" cy="69.2" rx="20.7" ry="7.1" fill="#fbfcfe"/><ellipse cx="543.1" cy="67.6" rx="19.5" ry="4.8" fill="#b9cadb"/><ellipse cx="541.7" cy="69.4" rx="18.1" ry="4.0" fill="#fbfcfe"/><ellipse cx="461.0" cy="72.6" rx="17.3" ry="4.6" fill="#b9cadb"/><ellipse cx="459.7" cy="74.3" rx="16.0" ry="3.8" fill="#fbfcfe"/><ellipse cx="398.2" cy="71.3" rx="32.2" ry="10.2" fill="#b9cadb"/><ellipse cx="395.8" cy="75.1" rx="29.8" ry="8.5" fill="#fbfcfe"/><ellipse cx="370.0" cy="72.7" rx="20.7" ry="9.5" fill="#b9cadb"/><ellipse cx="368.5" cy="76.2" rx="19.2" ry="7.9" fill="#fbfcfe"/><ellipse cx="502.7" cy="72.3" rx="37.9" ry="13.8" fill="#b9cadb"/><ellipse cx="499.9" cy="77.5" rx="35.1" ry="11.5" fill="#fbfcfe"/><ellipse cx="247.7" cy="74.2" rx="18.7" ry="7.3" fill="#b9cadb"/><ellipse cx="246.3" cy="77.0" rx="17.4" ry="6.1" fill="#fbfcfe"/><ellipse cx="233.8" cy="74.9" rx="38.4" ry="12.9" fill="#b9cadb"/><ellipse cx="230.9" cy="79.7" rx="35.5" ry="10.7" fill="#fbfcfe"/><ellipse cx="329.4" cy="75.9" rx="33.8" ry="14.7" fill="#b9cadb"/><ellipse cx="326.9" cy="81.5" rx="31.3" ry="12.3" fill="#fbfcfe"/><ellipse cx="485.0" cy="78.4" rx="24.7" ry="8.2" fill="#b9cadb"/><ellipse cx="483.2" cy="81.5" rx="22.8" ry="6.8" fill="#fbfcfe"/><ellipse cx="266.6" cy="79.5" rx="35.4" ry="16.4" fill="#b9cadb"/><ellipse cx="264.0" cy="85.6" rx="32.8" ry="13.7" fill="#fbfcfe"/><ellipse cx="421.0" cy="80.9" rx="33.1" ry="12.5" fill="#b9cadb"/><ellipse cx="418.6" cy="85.6" rx="30.7" ry="10.4" fill="#fbfcfe"/><ellipse cx="401.4" cy="83.4" rx="15.4" ry="6.6" fill="#b9cadb"/><ellipse cx="400.3" cy="85.9" rx="14.3" ry="5.5" fill="#fbfcfe"/><ellipse cx="276.0" cy="89.4" rx="29.4" ry="7.4" fill="#b9cadb"/><ellipse cx="273.9" cy="92.2" rx="27.2" ry="6.2" fill="#fbfcfe"/><ellipse cx="223.6" cy="90.0" rx="34.7" ry="9.4" fill="#b9cadb"/><ellipse cx="221.0" cy="93.5" rx="32.2" ry="7.8" fill="#fbfcfe"/><ellipse cx="323.8" cy="93.8" rx="20.3" ry="5.7" fill="#b9cadb"/><ellipse cx="322.3" cy="95.9" rx="18.8" ry="4.8" fill="#fbfcfe"/><ellipse cx="530.3" cy="94.6" rx="22.1" ry="9.6" fill="#b9cadb"/><ellipse cx="528.6" cy="98.2" rx="20.5" ry="8.0" fill="#fbfcfe"/><ellipse cx="163.5" cy="97.5" rx="19.2" ry="4.8" fill="#b9cadb"/><ellipse cx="162.1" cy="99.3" rx="17.7" ry="4.0" fill="#fbfcfe"/><ellipse cx="458.5" cy="97.2" rx="28.0" ry="9.6" fill="#b9cadb"/><ellipse cx="456.4" cy="100.8" rx="25.9" ry="8.0" fill="#fbfcfe"/><ellipse cx="239.5" cy="98.7" rx="26.4" ry="7.4" fill="#b9cadb"/><ellipse cx="237.6" cy="101.5" rx="24.4" ry="6.2" fill="#fbfcfe"/><ellipse cx="516.3" cy="98.7" rx="37.5" ry="12.3" fill="#b9cadb"/><ellipse cx="513.5" cy="103.4" rx="34.7" ry="10.2" fill="#fbfcfe"/><ellipse cx="327.3" cy="97.9" rx="38.4" ry="15.3" fill="#b9cadb"/><ellipse cx="324.5" cy="103.7" rx="35.5" ry="12.7" fill="#fbfcfe"/><ellipse cx="422.5" cy="99.8" rx="20.8" ry="9.0" fill="#b9cadb"/><ellipse cx="420.9" cy="103.2" rx="19.2" ry="7.5" fill="#fbfcfe"/><ellipse cx="502.9" cy="101.1" rx="18.4" ry="5.4" fill="#b9cadb"/><ellipse cx="501.5" cy="103.1" rx="17.0" ry="4.5" fill="#fbfcfe"/><ellipse cx="304.8" cy="104.5" rx="24.4" ry="11.3" fill="#b9cadb"/><ellipse cx="303.0" cy="108.8" rx="22.6" ry="9.4" fill="#fbfcfe"/><ellipse cx="378.8" cy="107.5" rx="17.0" ry="6.6" fill="#b9cadb"/><ellipse cx="377.6" cy="110.0" rx="15.8" ry="5.5" fill="#fbfcfe"/><ellipse cx="287.6" cy="108.0" rx="20.4" ry="7.0" fill="#b9cadb"/><ellipse cx="286.1" cy="110.6" rx="18.8" ry="5.8" fill="#fbfcfe"/><ellipse cx="192.4" cy="106.9" rx="33.6" ry="13.7" fill="#b9cadb"/><ellipse cx="189.9" cy="112.0" rx="31.1" ry="11.4" fill="#fbfcfe"/><ellipse cx="500.2" cy="109.9" rx="15.5" ry="6.8" fill="#b9cadb"/><ellipse cx="499.1" cy="112.4" rx="14.3" ry="5.6" fill="#fbfcfe"/><ellipse cx="173.3" cy="117.1" rx="18.1" ry="4.7" fill="#b9cadb"/><ellipse cx="171.9" cy="118.9" rx="16.7" ry="3.9" fill="#fbfcfe"/><ellipse cx="263.7" cy="119.4" rx="18.6" ry="5.1" fill="#b9cadb"/><ellipse cx="262.3" cy="121.3" rx="17.2" ry="4.2" fill="#fbfcfe"/><ellipse cx="264.3" cy="118.2" rx="21.1" ry="9.7" fill="#b9cadb"/><ellipse cx="262.8" cy="121.8" rx="19.5" ry="8.1" fill="#fbfcfe"/><ellipse cx="430.5" cy="118.6" rx="35.5" ry="13.4" fill="#b9cadb"/><ellipse cx="427.9" cy="123.7" rx="32.9" ry="11.2" fill="#fbfcfe"/><ellipse cx="509.3" cy="119.4" rx="33.9" ry="13.0" fill="#b9cadb"/><ellipse cx="506.8" cy="124.3" rx="31.4" ry="10.8" fill="#fbfcfe"/><ellipse cx="251.4" cy="119.2" rx="33.1" ry="13.9" fill="#b9cadb"/><ellipse cx="248.9" cy="124.4" rx="30.7" ry="11.6" fill="#fbfcfe"/><ellipse cx="397.1" cy="123.8" rx="17.1" ry="5.4" fill="#b9cadb"/><ellipse cx="395.9" cy="125.8" rx="15.8" ry="4.5" fill="#fbfcfe"/><ellipse cx="524.4" cy="123.6" rx="23.0" ry="9.3" fill="#b9cadb"/><ellipse cx="522.7" cy="127.1" rx="21.3" ry="7.8" fill="#fbfcfe"/><ellipse cx="385.3" cy="127.0" rx="20.3" ry="6.7" fill="#b9cadb"/><ellipse cx="383.8" cy="129.5" rx="18.8" ry="5.5" fill="#fbfcfe"/><ellipse cx="510.2" cy="128.6" rx="17.4" ry="7.1" fill="#b9cadb"/><ellipse cx="509.0" cy="131.2" rx="16.1" ry="6.0" fill="#fbfcfe"/><ellipse cx="451.3" cy="132.9" rx="31.5" ry="13.0" fill="#b9cadb"/><ellipse cx="449.0" cy="137.8" rx="29.2" ry="10.8" fill="#fbfcfe"/><ellipse cx="365.5" cy="138.1" rx="16.3" ry="4.7" fill="#b9cadb"/><ellipse cx="364.3" cy="139.9" rx="15.1" ry="3.9" fill="#fbfcfe"/><ellipse cx="312.7" cy="139.6" rx="15.8" ry="4.2" fill="#b9cadb"/><ellipse cx="311.5" cy="141.2" rx="14.6" ry="3.5" fill="#fbfcfe"/><ellipse cx="493.9" cy="138.8" rx="23.1" ry="9.0" fill="#b9cadb"/><ellipse cx="492.2" cy="142.2" rx="21.4" ry="7.5" fill="#fbfcfe"/><ellipse cx="260.2" cy="138.1" rx="32.2" ry="12.2" fill="#b9cadb"/><ellipse cx="257.8" cy="142.7" rx="29.9" ry="10.2" fill="#fbfcfe"/><ellipse cx="523.8" cy="140.4" rx="32.7" ry="13.3" fill="#b9cadb"/><ellipse cx="521.4" cy="145.4" rx="30.3" ry="11.1" fill="#fbfcfe"/><ellipse cx="455.2" cy="142.7" rx="19.6" ry="8.4" fill="#b9cadb"/><ellipse cx="453.8" cy="145.8" rx="18.2" ry="7.0" fill="#fbfcfe"/><ellipse cx="276.2" cy="143.3" rx="16.7" ry="6.8" fill="#b9cadb"/><ellipse cx="275.0" cy="145.8" rx="15.5" ry="5.6" fill="#fbfcfe"/><ellipse cx="183.7" cy="143.8" rx="24.0" ry="9.1" fill="#b9cadb"/><ellipse cx="182.0" cy="147.2" rx="22.2" ry="7.6" fill="#fbfcfe"/><ellipse cx="503.3" cy="144.8" rx="15.7" ry="6.8" fill="#b9cadb"/><ellipse cx="502.2" cy="147.3" rx="14.5" ry="5.6" fill="#fbfcfe"/><ellipse cx="378.8" cy="144.9" rx="30.5" ry="11.7" fill="#b9cadb"/><ellipse cx="376.6" cy="149.2" rx="28.2" ry="9.8" fill="#fbfcfe"/><ellipse cx="220.6" cy="144.5" rx="31.4" ry="14.6" fill="#b9cadb"/><ellipse cx="218.3" cy="150.0" rx="29.0" ry="12.2" fill="#fbfcfe"/><ellipse cx="484.6" cy="147.1" rx="21.6" ry="7.2" fill="#b9cadb"/><ellipse cx="483.0" cy="149.8" rx="20.0" ry="6.0" fill="#fbfcfe"/><ellipse cx="225.8" cy="149.2" rx="25.0" ry="10.2" fill="#b9cadb"/><ellipse cx="223.9" cy="153.0" rx="23.2" ry="8.5" fill="#fbfcfe"/><ellipse cx="267.3" cy="148.7" rx="34.7" ry="13.1" fill="#b9cadb"/><ellipse cx="264.7" cy="153.6" rx="32.1" ry="10.9" fill="#fbfcfe"/><ellipse cx="364.4" cy="148.7" rx="34.3" ry="14.8" fill="#b9cadb"/><ellipse cx="361.9" cy="154.3" rx="31.7" ry="12.3" fill="#fbfcfe"/><ellipse cx="311.4" cy="151.6" rx="27.7" ry="10.3" fill="#b9cadb"/><ellipse cx="309.4" cy="155.4" rx="25.6" ry="8.5" fill="#fbfcfe"/><ellipse cx="410.2" cy="152.3" rx="37.0" ry="10.5" fill="#b9cadb"/><ellipse cx="407.4" cy="156.2" rx="34.3" ry="8.8" fill="#fbfcfe"/><ellipse cx="335.5" cy="153.8" rx="20.1" ry="5.7" fill="#b9cadb"/><ellipse cx="334.0" cy="155.9" rx="18.6" ry="4.7" fill="#fbfcfe"/><ellipse cx="292.8" cy="153.1" rx="27.8" ry="11.9" fill="#b9cadb"/><ellipse cx="290.7" cy="157.5" rx="25.8" ry="9.9" fill="#fbfcfe"/><ellipse cx="182.6" cy="156.2" rx="18.9" ry="6.7" fill="#b9cadb"/><ellipse cx="181.2" cy="158.7" rx="17.5" ry="5.6" fill="#fbfcfe"/><ellipse cx="153.6" cy="160.1" rx="33.7" ry="9.3" fill="#b9cadb"/><ellipse cx="151.1" cy="163.6" rx="31.2" ry="7.8" fill="#fbfcfe"/><ellipse cx="438.1" cy="160.2" rx="34.9" ry="13.0" fill="#b9cadb"/><ellipse cx="435.5" cy="165.1" rx="32.3" ry="10.8" fill="#fbfcfe"/><ellipse cx="276.5" cy="167.2" rx="34.2" ry="10.2" fill="#b9cadb"/><ellipse cx="274.0" cy="171.0" rx="31.7" ry="8.5" fill="#fbfcfe"/><ellipse cx="318.4" cy="170.4" rx="33.6" ry="11.8" fill="#b9cadb"/><ellipse cx="315.9" cy="174.9" rx="31.1" ry="9.8" fill="#fbfcfe"/><ellipse cx="338.5" cy="171.5" rx="20.7" ry="8.4" fill="#b9cadb"/><ellipse cx="337.0" cy="174.7" rx="19.2" ry="7.0" fill="#fbfcfe"/><ellipse cx="183.2" cy="172.5" rx="19.9" ry="5.2" fill="#b9cadb"/><ellipse cx="181.7" cy="174.5" rx="18.4" ry="4.3" fill="#fbfcfe"/><ellipse cx="278.3" cy="171.2" rx="31.5" ry="14.4" fill="#b9cadb"/><ellipse cx="275.9" cy="176.6" rx="29.2" ry="12.0" fill="#fbfcfe"/><ellipse cx="256.6" cy="172.6" rx="38.8" ry="13.5" fill="#b9cadb"/><ellipse cx="253.7" cy="177.7" rx="35.9" ry="11.3" fill="#fbfcfe"/><ellipse cx="378.3" cy="179.9" rx="31.7" ry="9.3" fill="#b9cadb"/><ellipse cx="375.9" cy="183.3" rx="29.4" ry="7.7" fill="#fbfcfe"/><ellipse cx="354.4" cy="180.3" rx="33.4" ry="10.8" fill="#b9cadb"/><ellipse cx="351.9" cy="184.4" rx="30.9" ry="9.0" fill="#fbfcfe"/><ellipse cx="233.3" cy="182.6" rx="33.7" ry="8.5" fill="#b9cadb"/><ellipse cx="230.8" cy="185.8" rx="31.2" ry="7.1" fill="#fbfcfe"/><ellipse cx="222.6" cy="182.9" rx="21.4" ry="8.5" fill="#b9cadb"/><ellipse cx="221.1" cy="186.1" rx="19.8" ry="7.1" fill="#fbfcfe"/><ellipse cx="227.3" cy="187.4" rx="19.6" ry="7.8" fill="#b9cadb"/><ellipse cx="225.8" cy="190.3" rx="18.1" ry="6.5" fill="#fbfcfe"/><ellipse cx="318.5" cy="189.0" rx="16.2" ry="5.5" fill="#b9cadb"/><ellipse cx="317.3" cy="191.0" rx="15.0" ry="4.6" fill="#fbfcfe"/><ellipse cx="385.4" cy="192.8" rx="20.3" ry="5.1" fill="#b9cadb"/><ellipse cx="383.9" cy="194.7" rx="18.8" ry="4.2" fill="#fbfcfe"/><ellipse cx="225.9" cy="192.2" rx="19.9" ry="7.4" fill="#b9cadb"/><ellipse cx="224.4" cy="195.0" rx="18.4" ry="6.2" fill="#fbfcfe"/><ellipse cx="179.7" cy="192.2" rx="26.6" ry="8.1" fill="#b9cadb"/><ellipse cx="177.8" cy="195.2" rx="24.6" ry="6.7" fill="#fbfcfe"/><ellipse cx="469.3" cy="194.1" rx="23.3" ry="7.9" fill="#b9cadb"/><ellipse cx="467.5" cy="197.1" rx="21.6" ry="6.6" fill="#fbfcfe"/><ellipse cx="171.6" cy="194.3" rx="21.5" ry="7.8" fill="#b9cadb"/><ellipse cx="170.0" cy="197.2" rx="19.9" ry="6.5" fill="#fbfcfe"/><ellipse cx="443.6" cy="195.1" rx="33.8" ry="11.8" fill="#b9cadb"/><ellipse cx="441.1" cy="199.5" rx="31.3" ry="9.8" fill="#fbfcfe"/><ellipse cx="226.0" cy="196.6" rx="34.3" ry="13.3" fill="#b9cadb"/><ellipse cx="223.4" cy="201.5" rx="31.8" ry="11.1" fill="#fbfcfe"/><ellipse cx="388.0" cy="202.4" rx="34.4" ry="8.7" fill="#b9cadb"/><ellipse cx="385.5" cy="205.7" rx="31.8" ry="7.3" fill="#fbfcfe"/><ellipse cx="441.0" cy="205.8" rx="27.5" ry="10.6" fill="#b9cadb"/><ellipse cx="438.9" cy="209.8" rx="25.4" ry="8.8" fill="#fbfcfe"/><ellipse cx="193.2" cy="209.7" rx="24.9" ry="6.5" fill="#b9cadb"/><ellipse cx="191.3" cy="212.2" rx="23.0" ry="5.4" fill="#fbfcfe"/><ellipse cx="427.3" cy="208.0" rx="35.6" ry="12.5" fill="#b9cadb"/><ellipse cx="424.7" cy="212.7" rx="32.9" ry="10.4" fill="#fbfcfe"/><ellipse cx="221.0" cy="208.7" rx="30.9" ry="11.1" fill="#b9cadb"/><ellipse cx="218.7" cy="212.9" rx="28.6" ry="9.3" fill="#fbfcfe"/><ellipse cx="524.7" cy="210.4" rx="21.1" ry="6.4" fill="#b9cadb"/><ellipse cx="523.2" cy="212.8" rx="19.5" ry="5.3" fill="#fbfcfe"/><ellipse cx="247.9" cy="208.6" rx="38.4" ry="13.8" fill="#b9cadb"/><ellipse cx="245.1" cy="213.7" rx="35.5" ry="11.5" fill="#fbfcfe"/><ellipse cx="189.1" cy="215.7" rx="21.0" ry="8.9" fill="#b9cadb"/><ellipse cx="187.5" cy="219.0" rx="19.4" ry="7.4" fill="#fbfcfe"/><ellipse cx="324.6" cy="216.0" rx="19.7" ry="8.6" fill="#b9cadb"/><ellipse cx="323.1" cy="219.2" rx="18.3" ry="7.2" fill="#fbfcfe"/><ellipse cx="278.1" cy="217.2" rx="23.5" ry="9.1" fill="#b9cadb"/><ellipse cx="276.4" cy="220.6" rx="21.7" ry="7.6" fill="#fbfcfe"/><ellipse cx="301.2" cy="219.2" rx="23.6" ry="8.9" fill="#b9cadb"/><ellipse cx="299.4" cy="222.5" rx="21.9" ry="7.4" fill="#fbfcfe"/><ellipse cx="388.8" cy="220.6" rx="23.8" ry="7.5" fill="#b9cadb"/><ellipse cx="387.1" cy="223.4" rx="22.0" ry="6.2" fill="#fbfcfe"/><ellipse cx="281.4" cy="226.7" rx="34.9" ry="11.9" fill="#b9cadb"/><ellipse cx="278.8" cy="231.2" rx="32.3" ry="9.9" fill="#fbfcfe"/><ellipse cx="324.2" cy="230.9" rx="16.3" ry="6.0" fill="#b9cadb"/><ellipse cx="322.9" cy="233.2" rx="15.1" ry="5.0" fill="#fbfcfe"/><ellipse cx="267.1" cy="232.6" rx="20.5" ry="5.3" fill="#b9cadb"/><ellipse cx="265.6" cy="234.6" rx="19.0" ry="4.4" fill="#fbfcfe"/><ellipse cx="473.9" cy="234.8" rx="18.2" ry="5.6" fill="#b9cadb"/><ellipse cx="472.5" cy="236.9" rx="16.9" ry="4.7" fill="#fbfcfe"/><ellipse cx="400.3" cy="235.7" rx="18.1" ry="4.6" fill="#b9cadb"/><ellipse cx="399.0" cy="237.4" rx="16.7" ry="3.9" fill="#fbfcfe"/><ellipse cx="238.5" cy="235.7" rx="38.8" ry="12.4" fill="#b9cadb"/><ellipse cx="235.7" cy="240.3" rx="35.9" ry="10.3" fill="#fbfcfe"/><ellipse cx="349.9" cy="236.5" rx="32.2" ry="12.7" fill="#b9cadb"/><ellipse cx="347.6" cy="241.2" rx="29.8" ry="10.6" fill="#fbfcfe"/><ellipse cx="400.5" cy="237.3" rx="33.4" ry="14.9" fill="#b9cadb"/><ellipse cx="398.0" cy="242.9" rx="30.9" ry="12.4" fill="#fbfcfe"/><ellipse cx="171.8" cy="242.8" rx="20.7" ry="5.4" fill="#b9cadb"/><ellipse cx="170.2" cy="244.8" rx="19.1" ry="4.5" fill="#fbfcfe"/><ellipse cx="386.1" cy="243.0" rx="19.7" ry="6.2" fill="#b9cadb"/><ellipse cx="384.6" cy="245.4" rx="18.2" ry="5.2" fill="#fbfcfe"/><ellipse cx="436.2" cy="242.9" rx="22.3" ry="7.9" fill="#b9cadb"/><ellipse cx="434.5" cy="245.9" rx="20.6" ry="6.6" fill="#fbfcfe"/><ellipse cx="324.6" cy="248.0" rx="26.9" ry="10.8" fill="#b9cadb"/><ellipse cx="322.6" cy="252.0" rx="24.9" ry="9.0" fill="#fbfcfe"/><ellipse cx="311.9" cy="247.3" rx="30.6" ry="13.4" fill="#b9cadb"/><ellipse cx="309.6" cy="252.3" rx="28.3" ry="11.2" fill="#fbfcfe"/><ellipse cx="510.6" cy="251.3" rx="26.1" ry="9.4" fill="#b9cadb"/><ellipse cx="508.7" cy="254.8" rx="24.1" ry="7.8" fill="#fbfcfe"/><ellipse cx="503.9" cy="250.8" rx="26.4" ry="11.7" fill="#b9cadb"/><ellipse cx="502.0" cy="255.2" rx="24.5" ry="9.7" fill="#fbfcfe"/><ellipse cx="465.6" cy="251.5" rx="34.2" ry="13.1" fill="#b9cadb"/><ellipse cx="463.0" cy="256.4" rx="31.6" ry="10.9" fill="#fbfcfe"/><ellipse cx="343.2" cy="254.9" rx="19.2" ry="6.2" fill="#b9cadb"/><ellipse cx="341.8" cy="257.2" rx="17.8" ry="5.2" fill="#fbfcfe"/><ellipse cx="259.0" cy="254.4" rx="35.9" ry="9.1" fill="#b9cadb"/><ellipse cx="256.3" cy="257.8" rx="33.2" ry="7.6" fill="#fbfcfe"/><ellipse cx="354.6" cy="255.8" rx="23.5" ry="8.8" fill="#b9cadb"/><ellipse cx="352.9" cy="259.1" rx="21.7" ry="7.3" fill="#fbfcfe"/><ellipse cx="436.2" cy="256.7" rx="26.7" ry="7.4" fill="#b9cadb"/><ellipse cx="434.3" cy="259.5" rx="24.7" ry="6.2" fill="#fbfcfe"/><ellipse cx="197.6" cy="257.9" rx="23.1" ry="9.1" fill="#b9cadb"/><ellipse cx="195.9" cy="261.3" rx="21.4" ry="7.6" fill="#fbfcfe"/><ellipse cx="534.2" cy="258.9" rx="28.1" ry="7.6" fill="#b9cadb"/><ellipse cx="532.1" cy="261.7" rx="26.0" ry="6.3" fill="#fbfcfe"/><ellipse cx="312.5" cy="262.1" rx="15.8" ry="7.2" fill="#b9cadb"/><ellipse cx="311.3" cy="264.8" rx="14.6" ry="6.0" fill="#fbfcfe"/><ellipse cx="298.7" cy="261.9" rx="23.4" ry="7.9" fill="#b9cadb"/><ellipse cx="297.0" cy="264.8" rx="21.7" ry="6.6" fill="#fbfcfe"/><ellipse cx="516.9" cy="262.8" rx="20.2" ry="5.8" fill="#b9cadb"/><ellipse cx="515.4" cy="264.9" rx="18.7" ry="4.8" fill="#fbfcfe"/><ellipse cx="181.6" cy="262.7" rx="37.8" ry="10.1" fill="#b9cadb"/><ellipse cx="178.8" cy="266.5" rx="35.0" ry="8.4" fill="#fbfcfe"/><ellipse cx="495.1" cy="261.8" rx="32.6" ry="14.9" fill="#b9cadb"/><ellipse cx="492.7" cy="267.4" rx="30.1" ry="12.4" fill="#fbfcfe"/><ellipse cx="285.2" cy="264.4" rx="28.0" ry="11.6" fill="#b9cadb"/><ellipse cx="283.1" cy="268.8" rx="25.9" ry="9.7" fill="#fbfcfe"/><ellipse cx="462.3" cy="264.7" rx="38.8" ry="17.4" fill="#b9cadb"/><ellipse cx="459.4" cy="271.2" rx="35.9" ry="14.5" fill="#fbfcfe"/><ellipse cx="331.6" cy="267.8" rx="31.8" ry="8.1" fill="#b9cadb"/><ellipse cx="329.2" cy="270.9" rx="29.5" ry="6.8" fill="#fbfcfe"/><ellipse cx="231.1" cy="267.9" rx="29.6" ry="8.3" fill="#b9cadb"/><ellipse cx="229.0" cy="271.0" rx="27.4" ry="6.9" fill="#fbfcfe"/><ellipse cx="370.6" cy="268.0" rx="23.5" ry="8.1" fill="#b9cadb"/><ellipse cx="368.8" cy="271.1" rx="21.7" ry="6.8" fill="#fbfcfe"/><ellipse cx="320.6" cy="268.1" rx="37.0" ry="10.3" fill="#b9cadb"/><ellipse cx="317.9" cy="272.0" rx="34.3" ry="8.6" fill="#fbfcfe"/><ellipse cx="446.4" cy="275.0" rx="30.5" ry="11.6" fill="#b9cadb"/><ellipse cx="444.1" cy="279.3" rx="28.3" ry="9.6" fill="#fbfcfe"/><ellipse cx="277.8" cy="276.1" rx="32.4" ry="8.5" fill="#b9cadb"/><ellipse cx="275.4" cy="279.3" rx="30.0" ry="7.1" fill="#fbfcfe"/><ellipse cx="356.9" cy="280.0" rx="30.1" ry="11.8" fill="#b9cadb"/><ellipse cx="354.7" cy="284.4" rx="27.8" ry="9.8" fill="#fbfcfe"/><ellipse cx="227.3" cy="282.6" rx="31.7" ry="8.5" fill="#b9cadb"/><ellipse cx="225.0" cy="285.7" rx="29.4" ry="7.1" fill="#fbfcfe"/><ellipse cx="538.4" cy="282.8" rx="30.0" ry="9.3" fill="#b9cadb"/><ellipse cx="536.2" cy="286.3" rx="27.8" ry="7.8" fill="#fbfcfe"/><ellipse cx="517.5" cy="285.9" rx="31.3" ry="8.5" fill="#b9cadb"/><ellipse cx="515.2" cy="289.1" rx="29.0" ry="7.1" fill="#fbfcfe"/><ellipse cx="185.9" cy="284.0" rx="33.0" ry="15.4" fill="#b9cadb"/><ellipse cx="183.4" cy="289.8" rx="30.6" ry="12.8" fill="#fbfcfe"/><ellipse cx="410.5" cy="286.1" rx="28.6" ry="13.1" fill="#b9cadb"/><ellipse cx="408.4" cy="291.0" rx="26.5" ry="10.9" fill="#fbfcfe"/><ellipse cx="505.5" cy="292.0" rx="20.5" ry="5.6" fill="#b9cadb"/><ellipse cx="504.0" cy="294.1" rx="19.0" ry="4.6" fill="#fbfcfe"/><ellipse cx="474.0" cy="291.3" rx="37.9" ry="10.6" fill="#b9cadb"/><ellipse cx="471.2" cy="295.2" rx="35.1" ry="8.8" fill="#fbfcfe"/><ellipse cx="276.8" cy="297.2" rx="27.6" ry="10.1" fill="#b9cadb"/><ellipse cx="274.8" cy="300.9" rx="25.6" ry="8.4" fill="#fbfcfe"/><ellipse cx="368.1" cy="298.2" rx="32.4" ry="8.5" fill="#b9cadb"/><ellipse cx="365.7" cy="301.4" rx="30.0" ry="7.1" fill="#fbfcfe"/><ellipse cx="274.3" cy="297.6" rx="33.1" ry="11.0" fill="#b9cadb"/><ellipse cx="271.9" cy="301.7" rx="30.7" ry="9.2" fill="#fbfcfe"/><ellipse cx="185.8" cy="298.7" rx="20.4" ry="8.8" fill="#b9cadb"/><ellipse cx="184.3" cy="302.0" rx="18.9" ry="7.3" fill="#fbfcfe"/><ellipse cx="460.8" cy="296.8" rx="38.4" ry="16.1" fill="#b9cadb"/><ellipse cx="458.0" cy="302.8" rx="35.5" ry="13.4" fill="#fbfcfe"/><ellipse cx="403.3" cy="298.8" rx="31.3" ry="10.1" fill="#b9cadb"/><ellipse cx="400.9" cy="302.6" rx="28.9" ry="8.4" fill="#fbfcfe"/><ellipse cx="514.8" cy="298.4" rx="30.9" ry="13.9" fill="#b9cadb"/><ellipse cx="512.5" cy="303.6" rx="28.6" ry="11.6" fill="#fbfcfe"/><ellipse cx="321.7" cy="303.0" rx="33.6" ry="8.2" fill="#b9cadb"/><ellipse cx="319.2" cy="306.1" rx="31.1" ry="6.8" fill="#fbfcfe"/><ellipse cx="486.8" cy="304.8" rx="30.3" ry="8.4" fill="#b9cadb"/><ellipse cx="484.6" cy="307.9" rx="28.1" ry="7.0" fill="#fbfcfe"/><ellipse cx="542.1" cy="303.0" rx="34.2" ry="15.3" fill="#b9cadb"/><ellipse cx="539.5" cy="308.8" rx="31.7" ry="12.8" fill="#fbfcfe"/><ellipse cx="289.7" cy="309.9" rx="16.8" ry="6.2" fill="#b9cadb"/><ellipse cx="288.5" cy="312.2" rx="15.6" ry="5.1" fill="#fbfcfe"/><ellipse cx="454.1" cy="310.6" rx="17.7" ry="4.5" fill="#b9cadb"/><ellipse cx="452.7" cy="312.3" rx="16.4" ry="3.7" fill="#fbfcfe"/><ellipse cx="326.0" cy="310.2" rx="20.1" ry="7.5" fill="#b9cadb"/><ellipse cx="324.5" cy="313.0" rx="18.6" ry="6.3" fill="#fbfcfe"/><ellipse cx="218.5" cy="313.5" rx="16.5" ry="4.1" fill="#b9cadb"/><ellipse cx="217.3" cy="315.1" rx="15.3" ry="3.4" fill="#fbfcfe"/><ellipse cx="416.8" cy="312.8" rx="27.6" ry="9.6" fill="#b9cadb"/><ellipse cx="414.8" cy="316.4" rx="25.5" ry="8.0" fill="#fbfcfe"/><ellipse cx="166.9" cy="316.3" rx="24.3" ry="10.5" fill="#b9cadb"/><ellipse cx="165.1" cy="320.2" rx="22.5" ry="8.8" fill="#fbfcfe"/><ellipse cx="186.1" cy="316.4" rx="38.2" ry="12.9" fill="#b9cadb"/><ellipse cx="183.3" cy="321.2" rx="35.4" ry="10.7" fill="#fbfcfe"/><ellipse cx="528.1" cy="320.8" rx="25.4" ry="10.3" fill="#b9cadb"/><ellipse cx="526.2" cy="324.6" rx="23.5" ry="8.6" fill="#fbfcfe"/><ellipse cx="459.3" cy="323.6" rx="32.1" ry="8.6" fill="#b9cadb"/><ellipse cx="457.0" cy="326.8" rx="29.7" ry="7.2" fill="#fbfcfe"/><ellipse cx="301.2" cy="323.1" rx="36.4" ry="16.7" fill="#b9cadb"/><ellipse cx="298.5" cy="329.4" rx="33.7" ry="13.9" fill="#fbfcfe"/><ellipse cx="421.5" cy="326.2" rx="26.6" ry="10.3" fill="#b9cadb"/><ellipse cx="419.5" cy="330.1" rx="24.6" ry="8.6" fill="#fbfcfe"/><ellipse cx="518.5" cy="326.3" rx="25.6" ry="10.4" fill="#b9cadb"/><ellipse cx="516.6" cy="330.2" rx="23.7" ry="8.6" fill="#fbfcfe"/><ellipse cx="277.8" cy="328.7" rx="24.9" ry="10.8" fill="#b9cadb"/><ellipse cx="276.0" cy="332.8" rx="23.1" ry="9.0" fill="#fbfcfe"/><ellipse cx="300.6" cy="333.3" rx="29.3" ry="8.6" fill="#b9cadb"/><ellipse cx="298.4" cy="336.6" rx="27.1" ry="7.2" fill="#fbfcfe"/><ellipse cx="228.6" cy="334.3" rx="16.0" ry="5.7" fill="#b9cadb"/><ellipse cx="227.4" cy="336.4" rx="14.8" ry="4.7" fill="#fbfcfe"/><ellipse cx="329.5" cy="335.7" rx="34.9" ry="10.1" fill="#b9cadb"/><ellipse cx="326.9" cy="339.4" rx="32.3" ry="8.4" fill="#fbfcfe"/><ellipse cx="431.6" cy="337.4" rx="25.1" ry="9.8" fill="#b9cadb"/><ellipse cx="429.7" cy="341.0" rx="23.3" ry="8.1" fill="#fbfcfe"/><ellipse cx="309.9" cy="338.1" rx="29.3" ry="11.3" fill="#b9cadb"/><ellipse cx="307.7" cy="342.3" rx="27.2" ry="9.4" fill="#fbfcfe"/><ellipse cx="454.2" cy="340.2" rx="32.7" ry="10.6" fill="#b9cadb"/><ellipse cx="451.8" cy="344.2" rx="30.3" ry="8.8" fill="#fbfcfe"/><ellipse cx="247.0" cy="341.2" rx="23.9" ry="9.1" fill="#b9cadb"/><ellipse cx="245.2" cy="344.6" rx="22.1" ry="7.5" fill="#fbfcfe"/><ellipse cx="381.8" cy="344.5" rx="26.7" ry="8.2" fill="#b9cadb"/><ellipse cx="379.8" cy="347.5" rx="24.7" ry="6.8" fill="#fbfcfe"/><ellipse cx="487.0" cy="345.3" rx="37.1" ry="12.0" fill="#b9cadb"/><ellipse cx="484.3" cy="349.8" rx="34.3" ry="10.0" fill="#fbfcfe"/><ellipse cx="391.2" cy="346.6" rx="30.5" ry="10.6" fill="#b9cadb"/><ellipse cx="389.0" cy="350.5" rx="28.2" ry="8.8" fill="#fbfcfe"/><ellipse cx="201.9" cy="346.9" rx="32.1" ry="10.6" fill="#b9cadb"/><ellipse cx="199.5" cy="350.9" rx="29.8" ry="8.8" fill="#fbfcfe"/><ellipse cx="480.6" cy="347.7" rx="26.6" ry="10.7" fill="#b9cadb"/><ellipse cx="478.6" cy="351.7" rx="24.6" ry="9.0" fill="#fbfcfe"/><ellipse cx="239.9" cy="350.7" rx="25.1" ry="10.5" fill="#b9cadb"/><ellipse cx="238.0" cy="354.6" rx="23.2" ry="8.7" fill="#fbfcfe"/><ellipse cx="464.7" cy="354.4" rx="26.1" ry="9.5" fill="#b9cadb"/><ellipse cx="462.8" cy="358.0" rx="24.2" ry="7.9" fill="#fbfcfe"/><ellipse cx="360.8" cy="358.4" rx="17.1" ry="5.1" fill="#b9cadb"/><ellipse cx="359.5" cy="360.3" rx="15.9" ry="4.2" fill="#fbfcfe"/><ellipse cx="511.0" cy="359.7" rx="15.4" ry="6.3" fill="#b9cadb"/><ellipse cx="509.9" cy="362.1" rx="14.3" ry="5.3" fill="#fbfcfe"/><ellipse cx="533.5" cy="360.2" rx="34.1" ry="8.6" fill="#b9cadb"/><ellipse cx="531.0" cy="363.4" rx="31.6" ry="7.2" fill="#fbfcfe"/><ellipse cx="373.3" cy="360.8" rx="30.2" ry="13.9" fill="#b9cadb"/><ellipse cx="371.0" cy="366.0" rx="27.9" ry="11.6" fill="#fbfcfe"/><ellipse cx="192.4" cy="366.2" rx="15.2" ry="4.2" fill="#b9cadb"/><ellipse cx="191.3" cy="367.7" rx="14.1" ry="3.5" fill="#fbfcfe"/><ellipse cx="486.7" cy="368.1" rx="34.5" ry="10.0" fill="#b9cadb"/><ellipse cx="484.2" cy="371.8" rx="31.9" ry="8.3" fill="#fbfcfe"/><ellipse cx="299.3" cy="369.5" rx="22.3" ry="7.3" fill="#b9cadb"/><ellipse cx="297.7" cy="372.2" rx="20.6" ry="6.1" fill="#fbfcfe"/><ellipse cx="409.7" cy="368.5" rx="28.4" ry="10.9" fill="#b9cadb"/><ellipse cx="407.6" cy="372.6" rx="26.3" ry="9.0" fill="#fbfcfe"/><ellipse cx="343.8" cy="370.2" rx="26.2" ry="11.3" fill="#b9cadb"/><ellipse cx="341.8" cy="374.4" rx="24.3" ry="9.4" fill="#fbfcfe"/><ellipse cx="210.2" cy="371.8" rx="22.8" ry="8.1" fill="#b9cadb"/><ellipse cx="208.5" cy="374.9" rx="21.1" ry="6.8" fill="#fbfcfe"/><ellipse cx="477.5" cy="372.8" rx="25.0" ry="9.0" fill="#b9cadb"/><ellipse cx="475.6" cy="376.2" rx="23.1" ry="7.5" fill="#fbfcfe"/><ellipse cx="290.3" cy="373.7" rx="25.7" ry="6.9" fill="#b9cadb"/><ellipse cx="288.4" cy="376.3" rx="23.8" ry="5.8" fill="#fbfcfe"/><ellipse cx="419.8" cy="376.7" rx="19.3" ry="7.9" fill="#b9cadb"/><ellipse cx="418.3" cy="379.7" rx="17.9" ry="6.6" fill="#fbfcfe"/><ellipse cx="160.3" cy="380.3" rx="30.1" ry="7.8" fill="#b9cadb"/><ellipse cx="158.0" cy="383.2" rx="27.9" ry="6.5" fill="#fbfcfe"/><ellipse cx="252.4" cy="379.4" rx="33.0" ry="11.0" fill="#b9cadb"/><ellipse cx="250.0" cy="383.5" rx="30.6" ry="9.1" fill="#fbfcfe"/><ellipse cx="327.9" cy="382.0" rx="16.8" ry="5.7" fill="#b9cadb"/><ellipse cx="326.6" cy="384.1" rx="15.5" ry="4.7" fill="#fbfcfe"/><ellipse cx="477.6" cy="387.9" rx="23.3" ry="6.2" fill="#b9cadb"/><ellipse cx="475.9" cy="390.2" rx="21.6" ry="5.2" fill="#fbfcfe"/><ellipse cx="186.5" cy="394.2" rx="15.8" ry="7.1" fill="#b9cadb"/><ellipse cx="185.4" cy="396.9" rx="14.6" ry="5.9" fill="#fbfcfe"/><ellipse cx="398.6" cy="392.3" rx="33.2" ry="14.6" fill="#b9cadb"/><ellipse cx="396.2" cy="397.8" rx="30.8" ry="12.1" fill="#fbfcfe"/><ellipse cx="421.2" cy="398.0" rx="18.5" ry="4.7" fill="#b9cadb"/><ellipse cx="419.8" cy="399.7" rx="17.1" ry="4.0" fill="#fbfcfe"/><ellipse cx="174.3" cy="400.3" rx="36.5" ry="10.6" fill="#b9cadb"/><ellipse cx="171.6" cy="404.2" rx="33.8" ry="8.8" fill="#fbfcfe"/><ellipse cx="544.9" cy="404.8" rx="27.7" ry="8.0" fill="#b9cadb"/><ellipse cx="542.8" cy="407.9" rx="25.6" ry="6.7" fill="#fbfcfe"/><ellipse cx="261.2" cy="407.0" rx="17.8" ry="7.9" fill="#b9cadb"/><ellipse cx="259.9" cy="410.0" rx="16.5" ry="6.5" fill="#fbfcfe"/><ellipse cx="469.4" cy="407.0" rx="32.6" ry="12.0" fill="#b9cadb"/><ellipse cx="467.0" cy="411.5" rx="30.1" ry="10.0" fill="#fbfcfe"/><ellipse cx="536.6" cy="411.1" rx="27.9" ry="7.5" fill="#b9cadb"/><ellipse cx="534.5" cy="414.0" rx="25.8" ry="6.3" fill="#fbfcfe"/><ellipse cx="403.7" cy="410.1" rx="36.8" ry="15.6" fill="#b9cadb"/><ellipse cx="401.0" cy="415.9" rx="34.1" ry="13.0" fill="#fbfcfe"/><ellipse cx="383.3" cy="413.4" rx="15.3" ry="4.9" fill="#b9cadb"/><ellipse cx="382.1" cy="415.2" rx="14.2" ry="4.1" fill="#fbfcfe"/><ellipse cx="165.4" cy="418.6" rx="9.5" ry="5.4" fill="#b9cadb"/><ellipse cx="164.7" cy="420.6" rx="8.8" ry="4.5" fill="#fbfcfe"/><ellipse cx="67.5" cy="421.4" rx="12.1" ry="5.3" fill="#b9cadb"/><ellipse cx="66.6" cy="423.4" rx="11.2" ry="4.5" fill="#fbfcfe"/><ellipse cx="104.8" cy="421.8" rx="12.5" ry="7.3" fill="#b9cadb"/><ellipse cx="103.9" cy="424.5" rx="11.6" ry="6.1" fill="#fbfcfe"/><ellipse cx="514.2" cy="419.8" rx="37.1" ry="16.4" fill="#b9cadb"/><ellipse cx="511.4" cy="426.0" rx="34.3" ry="13.7" fill="#fbfcfe"/><ellipse cx="320.1" cy="422.6" rx="26.1" ry="7.8" fill="#b9cadb"/><ellipse cx="318.2" cy="425.5" rx="24.1" ry="6.5" fill="#fbfcfe"/><ellipse cx="365.6" cy="423.7" rx="16.8" ry="5.7" fill="#b9cadb"/><ellipse cx="364.3" cy="425.9" rx="15.6" ry="4.7" fill="#fbfcfe"/><ellipse cx="109.2" cy="424.7" rx="9.5" ry="4.1" fill="#b9cadb"/><ellipse cx="108.5" cy="426.3" rx="8.8" ry="3.5" fill="#fbfcfe"/><ellipse cx="37.4" cy="425.4" rx="15.0" ry="6.9" fill="#b9cadb"/><ellipse cx="36.3" cy="428.0" rx="13.9" ry="5.8" fill="#fbfcfe"/><ellipse cx="215.8" cy="427.1" rx="15.1" ry="7.0" fill="#b9cadb"/><ellipse cx="214.7" cy="429.7" rx="14.0" ry="5.8" fill="#fbfcfe"/><ellipse cx="142.2" cy="428.6" rx="7.1" ry="3.5" fill="#b9cadb"/><ellipse cx="141.6" cy="429.9" rx="6.5" ry="2.9" fill="#fbfcfe"/><ellipse cx="210.4" cy="428.1" rx="16.7" ry="8.2" fill="#b9cadb"/><ellipse cx="209.2" cy="431.2" rx="15.5" ry="6.9" fill="#fbfcfe"/><ellipse cx="270.2" cy="427.7" rx="24.9" ry="10.8" fill="#b9cadb"/><ellipse cx="268.3" cy="431.8" rx="23.1" ry="9.0" fill="#fbfcfe"/><ellipse cx="523.2" cy="433.6" rx="32.7" ry="10.5" fill="#b9cadb"/><ellipse cx="520.8" cy="437.5" rx="30.3" ry="8.7" fill="#fbfcfe"/><ellipse cx="206.0" cy="436.7" rx="8.2" ry="5.4" fill="#b9cadb"/><ellipse cx="205.4" cy="438.7" rx="7.6" ry="4.5" fill="#fbfcfe"/><ellipse cx="163.0" cy="437.0" rx="15.3" ry="10.1" fill="#b9cadb"/><ellipse cx="161.8" cy="440.8" rx="14.2" ry="8.4" fill="#fbfcfe"/><ellipse cx="525.0" cy="437.4" rx="35.9" ry="16.6" fill="#b9cadb"/><ellipse cx="522.4" cy="443.6" rx="33.2" ry="13.9" fill="#fbfcfe"/><ellipse cx="391.7" cy="440.7" rx="15.2" ry="6.3" fill="#b9cadb"/><ellipse cx="390.5" cy="443.0" rx="14.1" ry="5.3" fill="#fbfcfe"/><ellipse cx="116.5" cy="441.7" rx="16.9" ry="6.7" fill="#b9cadb"/><ellipse cx="115.3" cy="444.2" rx="15.6" ry="5.6" fill="#fbfcfe"/><ellipse cx="352.0" cy="442.8" rx="23.2" ry="9.0" fill="#b9cadb"/><ellipse cx="350.3" cy="446.1" rx="21.5" ry="7.5" fill="#fbfcfe"/><ellipse cx="510.5" cy="443.5" rx="23.0" ry="7.5" fill="#b9cadb"/><ellipse cx="508.8" cy="446.4" rx="21.3" ry="6.3" fill="#fbfcfe"/><ellipse cx="173.9" cy="445.1" rx="6.6" ry="3.7" fill="#b9cadb"/><ellipse cx="173.4" cy="446.5" rx="6.1" ry="3.1" fill="#fbfcfe"/><ellipse cx="366.3" cy="443.8" rx="34.8" ry="15.0" fill="#b9cadb"/><ellipse cx="363.7" cy="449.5" rx="32.2" ry="12.5" fill="#fbfcfe"/><ellipse cx="494.5" cy="447.0" rx="20.0" ry="5.1" fill="#b9cadb"/><ellipse cx="493.0" cy="448.9" rx="18.5" ry="4.3" fill="#fbfcfe"/><ellipse cx="433.9" cy="447.4" rx="15.6" ry="4.0" fill="#b9cadb"/><ellipse cx="432.8" cy="448.9" rx="14.5" ry="3.4" fill="#fbfcfe"/><ellipse cx="168.7" cy="448.3" rx="14.4" ry="7.6" fill="#b9cadb"/><ellipse cx="167.6" cy="451.1" rx="13.3" ry="6.3" fill="#fbfcfe"/><ellipse cx="290.3" cy="447.8" rx="32.9" ry="10.1" fill="#b9cadb"/><ellipse cx="287.9" cy="451.6" rx="30.4" ry="8.4" fill="#fbfcfe"/><ellipse cx="363.1" cy="447.3" rx="35.0" ry="13.5" fill="#b9cadb"/><ellipse cx="360.5" cy="452.4" rx="32.4" ry="11.2" fill="#fbfcfe"/><ellipse cx="171.9" cy="449.8" rx="11.7" ry="6.1" fill="#b9cadb"/><ellipse cx="171.0" cy="452.1" rx="10.8" ry="5.1" fill="#fbfcfe"/><ellipse cx="167.8" cy="450.2" rx="21.7" ry="7.4" fill="#b9cadb"/><ellipse cx="166.2" cy="453.0" rx="20.1" ry="6.2" fill="#fbfcfe"/><ellipse cx="478.5" cy="451.9" rx="29.2" ry="8.1" fill="#b9cadb"/><ellipse cx="476.3" cy="455.0" rx="27.0" ry="6.7" fill="#fbfcfe"/><ellipse cx="67.6" cy="454.3" rx="8.6" ry="4.0" fill="#b9cadb"/><ellipse cx="66.9" cy="455.8" rx="8.0" ry="3.4" fill="#fbfcfe"/><ellipse cx="163.3" cy="456.6" rx="15.2" ry="6.4" fill="#b9cadb"/><ellipse cx="162.1" cy="459.0" rx="14.0" ry="5.3" fill="#fbfcfe"/><ellipse cx="460.6" cy="456.4" rx="22.1" ry="8.7" fill="#b9cadb"/><ellipse cx="459.0" cy="459.7" rx="20.5" ry="7.3" fill="#fbfcfe"/><ellipse cx="213.6" cy="457.6" rx="31.8" ry="14.7" fill="#b9cadb"/><ellipse cx="211.3" cy="463.1" rx="29.4" ry="12.2" fill="#fbfcfe"/><ellipse cx="172.9" cy="462.0" rx="14.5" ry="5.5" fill="#b9cadb"/><ellipse cx="171.8" cy="464.1" rx="13.4" ry="4.6" fill="#fbfcfe"/><ellipse cx="270.2" cy="462.5" rx="35.9" ry="9.1" fill="#b9cadb"/><ellipse cx="267.6" cy="465.9" rx="33.2" ry="7.6" fill="#fbfcfe"/><ellipse cx="72.9" cy="464.6" rx="8.3" ry="3.0" fill="#b9cadb"/><ellipse cx="72.3" cy="465.7" rx="7.7" ry="2.5" fill="#fbfcfe"/><ellipse cx="141.3" cy="464.9" rx="8.6" ry="3.5" fill="#b9cadb"/><ellipse cx="140.7" cy="466.3" rx="8.0" ry="2.9" fill="#fbfcfe"/><ellipse cx="56.1" cy="465.3" rx="15.7" ry="7.7" fill="#b9cadb"/><ellipse cx="54.9" cy="468.2" rx="14.5" ry="6.4" fill="#fbfcfe"/><ellipse cx="280.2" cy="465.6" rx="18.5" ry="8.6" fill="#b9cadb"/><ellipse cx="278.8" cy="468.8" rx="17.2" ry="7.2" fill="#fbfcfe"/><ellipse cx="199.9" cy="465.7" rx="17.2" ry="10.5" fill="#b9cadb"/><ellipse cx="198.7" cy="469.6" rx="15.9" ry="8.7" fill="#fbfcfe"/><ellipse cx="176.5" cy="467.9" rx="9.7" ry="6.1" fill="#b9cadb"/><ellipse cx="175.8" cy="470.2" rx="9.0" ry="5.1" fill="#fbfcfe"/><ellipse cx="490.2" cy="467.7" rx="16.5" ry="7.2" fill="#b9cadb"/><ellipse cx="489.0" cy="470.4" rx="15.3" ry="6.0" fill="#fbfcfe"/><ellipse cx="56.0" cy="468.2" rx="9.9" ry="5.7" fill="#b9cadb"/><ellipse cx="55.3" cy="470.3" rx="9.2" ry="4.8" fill="#fbfcfe"/><ellipse cx="126.4" cy="470.4" rx="9.4" ry="5.9" fill="#b9cadb"/><ellipse cx="125.7" cy="472.6" rx="8.7" ry="4.9" fill="#fbfcfe"/><ellipse cx="136.5" cy="471.6" rx="10.7" ry="3.7" fill="#b9cadb"/><ellipse cx="135.7" cy="473.0" rx="9.9" ry="3.1" fill="#fbfcfe"/><ellipse cx="393.8" cy="473.5" rx="27.8" ry="8.0" fill="#b9cadb"/><ellipse cx="391.7" cy="476.5" rx="25.8" ry="6.6" fill="#fbfcfe"/><ellipse cx="61.5" cy="474.5" rx="16.0" ry="6.1" fill="#b9cadb"/><ellipse cx="60.3" cy="476.7" rx="14.8" ry="5.1" fill="#fbfcfe"/><ellipse cx="510.7" cy="474.9" rx="21.3" ry="7.4" fill="#b9cadb"/><ellipse cx="509.1" cy="477.7" rx="19.8" ry="6.2" fill="#fbfcfe"/><ellipse cx="221.3" cy="472.9" rx="37.0" ry="15.7" fill="#b9cadb"/><ellipse cx="218.5" cy="478.8" rx="34.3" ry="13.1" fill="#fbfcfe"/><ellipse cx="67.1" cy="476.1" rx="8.8" ry="5.1" fill="#b9cadb"/><ellipse cx="66.4" cy="478.1" rx="8.1" ry="4.3" fill="#fbfcfe"/><ellipse cx="66.3" cy="478.7" rx="9.4" ry="4.7" fill="#b9cadb"/><ellipse cx="65.6" cy="480.4" rx="8.7" ry="3.9" fill="#fbfcfe"/><ellipse cx="136.6" cy="478.7" rx="13.0" ry="5.0" fill="#b9cadb"/><ellipse cx="135.6" cy="480.6" rx="12.0" ry="4.2" fill="#fbfcfe"/><ellipse cx="187.2" cy="480.3" rx="24.9" ry="6.9" fill="#b9cadb"/><ellipse cx="185.4" cy="482.9" rx="23.0" ry="5.8" fill="#fbfcfe"/><ellipse cx="309.9" cy="479.1" rx="25.7" ry="11.6" fill="#b9cadb"/><ellipse cx="308.0" cy="483.5" rx="23.8" ry="9.7" fill="#fbfcfe"/><ellipse cx="82.1" cy="481.1" rx="12.6" ry="5.8" fill="#b9cadb"/><ellipse cx="81.2" cy="483.3" rx="11.6" ry="4.8" fill="#fbfcfe"/><ellipse cx="54.3" cy="481.6" rx="14.6" ry="6.0" fill="#b9cadb"/><ellipse cx="53.2" cy="483.8" rx="13.5" ry="5.0" fill="#fbfcfe"/><ellipse cx="413.2" cy="482.7" rx="21.4" ry="8.8" fill="#b9cadb"/><ellipse cx="411.6" cy="486.0" rx="19.8" ry="7.4" fill="#fbfcfe"/><ellipse cx="506.4" cy="483.9" rx="22.2" ry="6.6" fill="#b9cadb"/><ellipse cx="504.7" cy="486.4" rx="20.5" ry="5.5" fill="#fbfcfe"/><ellipse cx="201.5" cy="485.2" rx="30.9" ry="13.6" fill="#b9cadb"/><ellipse cx="199.3" cy="490.3" rx="28.6" ry="11.4" fill="#fbfcfe"/><ellipse cx="218.4" cy="488.5" rx="14.4" ry="9.1" fill="#b9cadb"/><ellipse cx="217.3" cy="491.9" rx="13.3" ry="7.6" fill="#fbfcfe"/><ellipse cx="143.5" cy="493.2" rx="8.7" ry="3.2" fill="#b9cadb"/><ellipse cx="142.8" cy="494.4" rx="8.0" ry="2.6" fill="#fbfcfe"/><ellipse cx="239.2" cy="491.3" rx="37.4" ry="10.1" fill="#b9cadb"/><ellipse cx="236.4" cy="495.1" rx="34.6" ry="8.4" fill="#fbfcfe"/><ellipse cx="509.5" cy="494.0" rx="23.0" ry="7.8" fill="#b9cadb"/><ellipse cx="507.8" cy="496.9" rx="21.3" ry="6.5" fill="#fbfcfe"/><ellipse cx="377.1" cy="495.4" rx="20.9" ry="5.9" fill="#b9cadb"/><ellipse cx="375.6" cy="497.6" rx="19.3" ry="4.9" fill="#fbfcfe"/><ellipse cx="305.0" cy="495.2" rx="22.6" ry="6.9" fill="#b9cadb"/><ellipse cx="303.3" cy="497.8" rx="21.0" ry="5.7" fill="#fbfcfe"/><ellipse cx="135.6" cy="496.0" rx="11.3" ry="5.6" fill="#b9cadb"/><ellipse cx="134.8" cy="498.2" rx="10.5" ry="4.7" fill="#fbfcfe"/><ellipse cx="105.0" cy="496.2" rx="14.5" ry="7.3" fill="#b9cadb"/><ellipse cx="103.9" cy="498.9" rx="13.4" ry="6.1" fill="#fbfcfe"/><ellipse cx="355.6" cy="496.2" rx="28.2" ry="8.7" fill="#b9cadb"/><ellipse cx="353.5" cy="499.5" rx="26.1" ry="7.2" fill="#fbfcfe"/><ellipse cx="188.7" cy="498.2" rx="22.1" ry="7.1" fill="#b9cadb"/><ellipse cx="187.1" cy="500.9" rx="20.4" ry="5.9" fill="#fbfcfe"/><ellipse cx="450.5" cy="498.6" rx="30.9" ry="11.1" fill="#b9cadb"/><ellipse cx="448.2" cy="502.7" rx="28.6" ry="9.3" fill="#fbfcfe"/><ellipse cx="135.6" cy="500.7" rx="15.9" ry="8.0" fill="#b9cadb"/><ellipse cx="134.4" cy="503.8" rx="14.7" ry="6.7" fill="#fbfcfe"/><ellipse cx="536.8" cy="501.9" rx="19.1" ry="5.8" fill="#b9cadb"/><ellipse cx="535.4" cy="504.1" rx="17.7" ry="4.8" fill="#fbfcfe"/><ellipse cx="200.8" cy="501.8" rx="31.1" ry="13.4" fill="#b9cadb"/><ellipse cx="198.5" cy="506.8" rx="28.8" ry="11.2" fill="#fbfcfe"/><ellipse cx="129.6" cy="503.2" rx="15.6" ry="9.0" fill="#b9cadb"/><ellipse cx="128.4" cy="506.5" rx="14.5" ry="7.5" fill="#fbfcfe"/><ellipse cx="292.5" cy="505.7" rx="17.8" ry="5.4" fill="#b9cadb"/><ellipse cx="291.2" cy="507.8" rx="16.5" ry="4.5" fill="#fbfcfe"/><ellipse cx="120.3" cy="506.0" rx="10.0" ry="5.9" fill="#b9cadb"/><ellipse cx="119.6" cy="508.2" rx="9.3" ry="4.9" fill="#fbfcfe"/><ellipse cx="120.3" cy="507.9" rx="13.1" ry="5.5" fill="#b9cadb"/><ellipse cx="119.3" cy="509.9" rx="12.1" ry="4.6" fill="#fbfcfe"/><ellipse cx="99.9" cy="508.3" rx="11.7" ry="4.6" fill="#b9cadb"/><ellipse cx="99.0" cy="510.0" rx="10.8" ry="3.8" fill="#fbfcfe"/><ellipse cx="295.5" cy="508.2" rx="21.9" ry="7.6" fill="#b9cadb"/><ellipse cx="293.9" cy="511.1" rx="20.3" ry="6.3" fill="#fbfcfe"/><ellipse cx="541.1" cy="509.6" rx="17.2" ry="6.1" fill="#b9cadb"/><ellipse cx="539.9" cy="511.9" rx="15.9" ry="5.1" fill="#fbfcfe"/><ellipse cx="339.6" cy="510.5" rx="27.9" ry="8.6" fill="#b9cadb"/><ellipse cx="337.5" cy="513.7" rx="25.9" ry="7.2" fill="#fbfcfe"/><ellipse cx="252.9" cy="512.1" rx="26.5" ry="11.1" fill="#b9cadb"/><ellipse cx="251.0" cy="516.2" rx="24.5" ry="9.2" fill="#fbfcfe"/><ellipse cx="168.6" cy="515.6" rx="22.6" ry="10.3" fill="#b9cadb"/><ellipse cx="167.0" cy="519.5" rx="20.9" ry="8.6" fill="#fbfcfe"/><ellipse cx="406.0" cy="515.5" rx="27.6" ry="11.3" fill="#b9cadb"/><ellipse cx="403.9" cy="519.7" rx="25.5" ry="9.4" fill="#fbfcfe"/><ellipse cx="365.4" cy="518.4" rx="38.6" ry="14.0" fill="#b9cadb"/><ellipse cx="362.6" cy="523.6" rx="35.7" ry="11.6" fill="#fbfcfe"/><ellipse cx="543.6" cy="521.2" rx="24.0" ry="6.7" fill="#b9cadb"/><ellipse cx="541.9" cy="523.7" rx="22.2" ry="5.6" fill="#fbfcfe"/><ellipse cx="409.6" cy="520.8" rx="35.8" ry="12.3" fill="#b9cadb"/><ellipse cx="407.0" cy="525.4" rx="33.2" ry="10.3" fill="#fbfcfe"/><ellipse cx="439.9" cy="520.4" rx="32.1" ry="14.4" fill="#b9cadb"/><ellipse cx="437.5" cy="525.8" rx="29.7" ry="12.0" fill="#fbfcfe"/><ellipse cx="323.1" cy="521.5" rx="37.4" ry="12.2" fill="#b9cadb"/><ellipse cx="320.3" cy="526.0" rx="34.6" ry="10.2" fill="#fbfcfe"/><ellipse cx="371.4" cy="524.0" rx="25.4" ry="11.1" fill="#b9cadb"/><ellipse cx="369.5" cy="528.2" rx="23.5" ry="9.2" fill="#fbfcfe"/><ellipse cx="384.6" cy="525.5" rx="19.9" ry="6.6" fill="#b9cadb"/><ellipse cx="383.1" cy="528.0" rx="18.4" ry="5.5" fill="#fbfcfe"/><ellipse cx="223.9" cy="528.1" rx="30.7" ry="8.3" fill="#b9cadb"/><ellipse cx="221.6" cy="531.3" rx="28.4" ry="7.0" fill="#fbfcfe"/><ellipse cx="474.1" cy="527.6" rx="37.7" ry="12.4" fill="#b9cadb"/><ellipse cx="471.3" cy="532.3" rx="34.9" ry="10.3" fill="#fbfcfe"/><ellipse cx="224.6" cy="532.6" rx="32.2" ry="10.5" fill="#b9cadb"/><ellipse cx="222.2" cy="536.6" rx="29.8" ry="8.8" fill="#fbfcfe"/><ellipse cx="495.0" cy="533.2" rx="21.2" ry="9.2" fill="#b9cadb"/><ellipse cx="493.4" cy="536.6" rx="19.6" ry="7.7" fill="#fbfcfe"/><ellipse cx="270.8" cy="534.0" rx="18.3" ry="6.6" fill="#b9cadb"/><ellipse cx="269.4" cy="536.5" rx="16.9" ry="5.5" fill="#fbfcfe"/><ellipse cx="532.0" cy="533.8" rx="37.7" ry="13.3" fill="#b9cadb"/><ellipse cx="529.2" cy="538.8" rx="34.9" ry="11.1" fill="#fbfcfe"/><ellipse cx="386.0" cy="534.1" rx="31.3" ry="14.1" fill="#b9cadb"/><ellipse cx="383.7" cy="539.4" rx="29.0" ry="11.8" fill="#fbfcfe"/><ellipse cx="209.1" cy="536.3" rx="19.3" ry="9.0" fill="#b9cadb"/><ellipse cx="207.7" cy="539.7" rx="17.9" ry="7.5" fill="#fbfcfe"/><ellipse cx="435.1" cy="540.3" rx="17.6" ry="6.9" fill="#b9cadb"/><ellipse cx="433.8" cy="542.9" rx="16.3" ry="5.7" fill="#fbfcfe"/><ellipse cx="292.2" cy="542.7" rx="16.9" ry="4.9" fill="#b9cadb"/><ellipse cx="291.0" cy="544.5" rx="15.7" ry="4.1" fill="#fbfcfe"/><ellipse cx="367.2" cy="549.2" rx="22.8" ry="10.0" fill="#b9cadb"/><ellipse cx="365.6" cy="552.9" rx="21.1" ry="8.3" fill="#fbfcfe"/><ellipse cx="483.2" cy="550.7" rx="29.7" ry="7.5" fill="#b9cadb"/><ellipse cx="481.0" cy="553.5" rx="27.5" ry="6.2" fill="#fbfcfe"/><ellipse cx="396.9" cy="550.2" rx="27.8" ry="9.4" fill="#b9cadb"/><ellipse cx="394.9" cy="553.7" rx="25.8" ry="7.8" fill="#fbfcfe"/><ellipse cx="475.3" cy="549.6" rx="35.6" ry="12.2" fill="#b9cadb"/><ellipse cx="472.7" cy="554.2" rx="33.0" ry="10.1" fill="#fbfcfe"/><ellipse cx="390.3" cy="550.8" rx="35.3" ry="10.0" fill="#b9cadb"/><ellipse cx="387.7" cy="554.5" rx="32.7" ry="8.4" fill="#fbfcfe"/><ellipse cx="268.3" cy="553.0" rx="19.5" ry="5.2" fill="#b9cadb"/><ellipse cx="266.8" cy="554.9" rx="18.1" ry="4.3" fill="#fbfcfe"/><ellipse cx="450.8" cy="553.1" rx="16.6" ry="5.2" fill="#b9cadb"/><ellipse cx="449.6" cy="555.1" rx="15.3" ry="4.4" fill="#fbfcfe"/><ellipse cx="544.8" cy="551.1" rx="35.6" ry="15.3" fill="#b9cadb"/><ellipse cx="542.2" cy="556.8" rx="33.0" ry="12.8" fill="#fbfcfe"/><ellipse cx="317.7" cy="554.3" rx="29.7" ry="9.5" fill="#b9cadb"/><ellipse cx="315.5" cy="557.9" rx="27.5" ry="7.9" fill="#fbfcfe"/><ellipse cx="154.5" cy="554.5" rx="36.0" ry="16.7" fill="#b9cadb"/><ellipse cx="151.9" cy="560.8" rx="33.4" ry="13.9" fill="#fbfcfe"/><ellipse cx="531.6" cy="557.5" rx="22.7" ry="7.5" fill="#b9cadb"/><ellipse cx="530.0" cy="560.3" rx="21.0" ry="6.3" fill="#fbfcfe"/><ellipse cx="326.5" cy="559.9" rx="37.2" ry="10.9" fill="#b9cadb"/><ellipse cx="323.7" cy="564.0" rx="34.4" ry="9.1" fill="#fbfcfe"/><ellipse cx="293.7" cy="560.3" rx="26.6" ry="10.7" fill="#b9cadb"/><ellipse cx="291.7" cy="564.3" rx="24.7" ry="8.9" fill="#fbfcfe"/><ellipse cx="422.8" cy="564.6" rx="35.4" ry="10.6" fill="#b9cadb"/><ellipse cx="420.1" cy="568.6" rx="32.8" ry="8.8" fill="#fbfcfe"/><ellipse cx="422.0" cy="568.1" rx="21.1" ry="7.3" fill="#b9cadb"/><ellipse cx="420.4" cy="570.8" rx="19.5" ry="6.1" fill="#fbfcfe"/><ellipse cx="497.0" cy="566.9" rx="36.6" ry="13.6" fill="#b9cadb"/><ellipse cx="494.3" cy="572.0" rx="33.9" ry="11.3" fill="#fbfcfe"/><ellipse cx="161.1" cy="569.3" rx="19.9" ry="8.8" fill="#b9cadb"/><ellipse cx="159.6" cy="572.6" rx="18.4" ry="7.3" fill="#fbfcfe"/><ellipse cx="264.9" cy="569.5" rx="25.9" ry="9.1" fill="#b9cadb"/><ellipse cx="263.0" cy="572.9" rx="24.0" ry="7.6" fill="#fbfcfe"/><ellipse cx="425.1" cy="571.3" rx="29.2" ry="7.2" fill="#b9cadb"/><ellipse cx="423.0" cy="574.0" rx="27.0" ry="6.0" fill="#fbfcfe"/><ellipse cx="266.3" cy="575.7" rx="21.5" ry="5.9" fill="#b9cadb"/><ellipse cx="264.7" cy="577.9" rx="19.9" ry="4.9" fill="#fbfcfe"/><ellipse cx="504.4" cy="575.9" rx="27.1" ry="12.7" fill="#b9cadb"/><ellipse cx="502.4" cy="580.6" rx="25.1" ry="10.5" fill="#fbfcfe"/><ellipse cx="305.4" cy="577.9" rx="23.8" ry="7.0" fill="#b9cadb"/><ellipse cx="303.6" cy="580.5" rx="22.1" ry="5.8" fill="#fbfcfe"/><ellipse cx="494.9" cy="582.6" rx="31.1" ry="8.7" fill="#b9cadb"/><ellipse cx="492.6" cy="585.9" rx="28.8" ry="7.3" fill="#fbfcfe"/><ellipse cx="469.9" cy="582.1" rx="31.4" ry="11.3" fill="#b9cadb"/><ellipse cx="467.6" cy="586.4" rx="29.1" ry="9.5" fill="#fbfcfe"/><ellipse cx="528.6" cy="585.0" rx="38.4" ry="11.5" fill="#b9cadb"/><ellipse cx="525.7" cy="589.3" rx="35.6" ry="9.6" fill="#fbfcfe"/></g></g>
  <g clip-path="url(#mainclip)" filter="url(#blur4s)">
    <rect x="140" y="380" width="400" height="200" fill="url(#lowshade)"/>
    <path d="M190 490 C230 478 270 482 300 492 C340 500 380 496 420 492 C450 490 470 496 490 505" stroke="#9fb2c4" stroke-width="7" fill="none" opacity="0.55"/>
    <path d="M286 520 C310 506 350 498 410 497 C440 497 465 503 480 514" stroke="#a3b5c6" stroke-width="6" fill="none" opacity="0.55"/>
    <path d="M296 455 C320 446 345 448 365 460" stroke="#a9bbcb" stroke-width="6" fill="none" opacity="0.5"/>
    <path d="M426 430 C445 420 465 430 478 455" stroke="#a9bbcb" stroke-width="6" fill="none" opacity="0.5"/>
    <path d="M175 540 C200 530 230 535 250 548" stroke="#a9bbcb" stroke-width="6" fill="none" opacity="0.45"/>
  </g>
  </g>
  <g font-weight="bold" font-size="21">
    <text x="42" y="57" textLength="53" lengthAdjust="spacingAndGlyphs" fill="#fff" stroke="#fff" stroke-width="0.8" font-weight="normal" filter="url(#glow)">12 km</text>
    <text x="52" y="199" textLength="43" lengthAdjust="spacingAndGlyphs" fill="#fff" stroke="#fff" stroke-width="0.8" font-weight="normal" filter="url(#glow)">9 km</text>
    <text x="52" y="341" textLength="43" lengthAdjust="spacingAndGlyphs" fill="#fff" stroke="#fff" stroke-width="0.8" font-weight="normal" filter="url(#glow)">6 km</text>
    <text x="52" y="483" textLength="43" lengthAdjust="spacingAndGlyphs" fill="#111" stroke="#111" stroke-width="0.5" filter="url(#wglow)">3 km</text>
    <text x="51" y="611" textLength="43" lengthAdjust="spacingAndGlyphs" fill="#fff" stroke="#fff" stroke-width="0.8" font-weight="normal" filter="url(#glow)">0 km</text>
    <text x="134" y="417" font-size="22.5" textLength="82" lengthAdjust="spacingAndGlyphs" fill="#fff" stroke="#fff" stroke-width="0.8" font-weight="normal" filter="url(#glow)">Cumulus</text>
    <text x="309" y="552.5" font-size="22.5" textLength="141" lengthAdjust="spacingAndGlyphs" fill="#1a1a1a">Cumulonimbus</text>
  </g>
</g>
<g fill="#ff0000"><rect x="160.3" y="55" width="32" height="8"/><rect x="216.1" y="55" width="32" height="8"/><rect x="271.9" y="55" width="32" height="8"/><rect x="327.7" y="55" width="32" height="8"/><rect x="383.5" y="55" width="32" height="8"/><rect x="439.3" y="55" width="32" height="8"/><rect x="495.1" y="55" width="32" height="8"/><rect x="550.9" y="55" width="32" height="8"/><rect x="606.7" y="55" width="32" height="8"/><rect x="158.3" y="468.7" width="32" height="8"/><rect x="214.1" y="468.7" width="32" height="8"/><rect x="270.0" y="468.7" width="32" height="8"/><rect x="325.8" y="468.7" width="32" height="8"/><rect x="381.6" y="468.7" width="32" height="8"/><rect x="437.4" y="468.7" width="32" height="8"/><rect x="493.3" y="468.7" width="32" height="8"/><rect x="549.1" y="468.7" width="32" height="8"/><rect x="604.9" y="468.7" width="32" height="8"/></g>
<rect x="312.65" y="186.8" width="47.7" height="37.5" fill="none" stroke="#555" stroke-width="3"/>
<path d="M370.6 202.9 L679 167" stroke="#5a5a5a" stroke-width="2.5" fill="none" stroke-linecap="round"/>
<path d="M666.5 162.3 L679.3 167 L667.8 174.8" stroke="#5a5a5a" stroke-width="2.6" fill="none" stroke-linecap="round" stroke-linejoin="round"/>
<rect x="655" y="25" width="92.5" height="62.5" fill="#636363"/>
<text x="667.3" y="71.2" font-size="44.5" fill="#ffff00" textLength="66" lengthAdjust="spacingAndGlyphs">Top</text>
<rect x="656" y="446" width="123" height="62" fill="#636363"/>
<text x="667" y="492" font-size="42" fill="#ffff00">0 °C</text>
<rect x="688.5" y="111.4" width="480" height="258.8" fill="#f2f2f2" stroke="#595959" stroke-width="1.4"/>
<path d="M826.3 232.2 L858.5 180.8 L916.5 180.8 L948.7 232.2 L916.5 283.5 L858.5 283.5 Z" fill="#fff" stroke="#5f7690" stroke-width="1.1"/>
<path d="M1036.75 176.1 L1059.6 140 L1091.3 140 L1113.8 176.1 L1091.3 212.5 L1059.6 212.5 Z" fill="#fff" stroke="#6a7a8c" stroke-width="1.1"/>
<circle cx="951" cy="252.9" r="15.6" fill="#fff" stroke="#5f7690" stroke-width="1.1"/>
<g fill="#2a6cc2" stroke="#3a5d8a" stroke-width="0.8">
<circle cx="940.9" cy="142.35" r="15.5"/>
<circle cx="762.5" cy="202" r="15.5"/>
<circle cx="764.3" cy="302.5" r="15.5"/>
<circle cx="1075.5" cy="292.8" r="15.5"/>
</g>
<path d="M1046.3 285 L977 262.8" stroke="#595959" stroke-width="2.6" fill="none"/>
<path d="M989.75 260.3 L976 262.5 L985 272.75" stroke="#595959" stroke-width="2.5" fill="none" stroke-linecap="round"/>
<g fill="#1d5cf2">
<path d="M1085.2 545.9 L1106.8 545.9 C1112 552 1119 562 1121.8 570 C1123 576 1123 588 1120.5 594.9 C1118 601 1114 608 1110 615.8 C1108.8 619 1108.1 623 1108.1 625.55 L1085.2 625.55 Z"/>
<path d="M1165.55 550.45 C1160 552 1153 557 1147.9 563.5 C1144 569 1142 577 1140.7 584.4 C1139 590 1138 591 1136.2 593.6 C1132 598 1129 601 1127 604 C1123 609 1120 612 1119.2 614.45 C1117 618 1115 622 1114.6 625.55 L1165.55 625.55 Z"/>
<rect x="1085" y="629.1" width="4.7" height="24.7"/>
<path fill-rule="evenodd" d="M1097.5 629.1 H1112 C1116.8 629.1 1119.5 631.8 1119.5 635.6 C1119.5 638.6 1117.6 640.8 1114.8 641.5 L1122 653.8 H1116.4 L1109.8 642 H1102.2 V653.8 H1097.5 Z M1102.2 633.3 H1111.6 C1113.8 633.3 1115 634.4 1115 636.5 C1115 638.6 1113.8 639.7 1111.6 639.7 H1102.2 Z"/>
<path d="M1128.1 653.8 V629.1 H1134.6 L1147.2 647.5 L1159.6 629.1 H1165.7 V653.8 H1161 V634.5 L1149.6 653.8 H1144.8 L1133.1 634.5 V653.8 Z"/>
</g>
</g>
</svg>
</body></html>
